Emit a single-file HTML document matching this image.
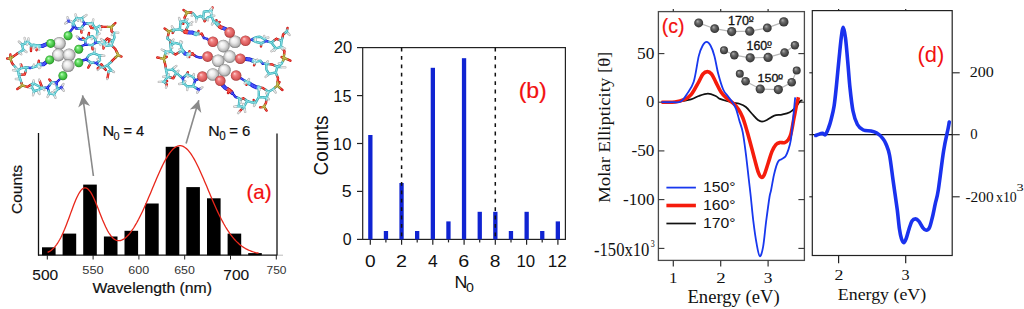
<!DOCTYPE html>
<html><head><meta charset="utf-8"><style>
html,body{margin:0;padding:0;background:#fff;}
body{width:1024px;height:309px;overflow:hidden;}
svg{display:block;}
</style></head><body>
<svg width="1024" height="309" viewBox="0 0 1024 309">
<defs>
<radialGradient id="gsph" cx="0.5" cy="0.5" r="0.5" fx="0.35" fy="0.3"><stop offset="0" stop-color="#b0b0b0"/><stop offset="0.4" stop-color="#6a6a6a"/><stop offset="1" stop-color="#303030"/></radialGradient>
<radialGradient id="gsil" cx="0.5" cy="0.5" r="0.5" fx="0.35" fy="0.3"><stop offset="0" stop-color="#ffffff"/><stop offset="0.45" stop-color="#ebebeb"/><stop offset="0.8" stop-color="#bdbdbd"/><stop offset="1" stop-color="#7a7a7a"/></radialGradient>
<radialGradient id="ggrn" cx="0.5" cy="0.5" r="0.5" fx="0.35" fy="0.3"><stop offset="0" stop-color="#c8ffc8"/><stop offset="0.35" stop-color="#6ee46e"/><stop offset="0.8" stop-color="#3cb83c"/><stop offset="1" stop-color="#248a24"/></radialGradient>
<radialGradient id="gred" cx="0.5" cy="0.5" r="0.5" fx="0.35" fy="0.3"><stop offset="0" stop-color="#ffd0d0"/><stop offset="0.35" stop-color="#f08080"/><stop offset="0.8" stop-color="#d85858"/><stop offset="1" stop-color="#a03838"/></radialGradient>
</defs>
<path d="M69.0 33.0L71.0 30.6M71.0 30.6L72.9 28.3M72.9 28.3L72.9 25.4M83.0 21.1L84.6 23.9M84.6 23.9L82.8 26.1M78.5 28.5L76.0 28.6M76.0 28.6L74.5 25.6M70.8 21.8L68.6 21.0M68.6 21.0L66.9 22.2M68.6 21.0L68.0 19.1M84.6 23.9L86.8 23.5M80.8 46.4L83.0 45.5M83.0 45.5L85.3 44.6M85.3 44.6L85.3 42.3M95.5 41.0L95.5 42.9M95.5 42.9L93.7 44.0M88.6 44.9L85.3 44.6M82.4 39.5L79.5 39.0M79.5 39.0L78.2 37.6M95.5 42.9L97.5 42.6M82.5 60.5L84.2 60.0M84.2 60.0L86.0 59.5M86.0 59.5L87.5 57.4M98.1 61.7L96.2 63.1M96.2 63.1L93.7 62.8M88.5 61.0L86.0 59.5M96.2 63.1L98.4 65.0M46.5 43.2L44.5 44.2M44.5 44.2L42.4 45.1M42.4 45.1L40.1 45.3M47.1 44.8L45.0 45.7M45.0 45.7L43.0 46.7M43.0 46.7L40.6 46.9M46.8 44.0L44.8 45.0M44.8 45.0L42.7 45.9M42.7 45.9L40.4 46.1M45.7 61.6L44.5 62.6M44.5 62.6L43.2 63.7M43.2 63.7L40.7 63.7M46.3 63.0L45.0 64.1M45.0 64.1L43.8 65.1M43.8 65.1L41.2 65.1M46.0 62.3L44.8 63.4M44.8 63.4L43.5 64.4M43.5 64.4L41.0 64.4M31.8 67.7L30.4 68.0M30.4 68.0L28.2 67.7M59.5 79.5L58.0 81.0M58.0 81.0L56.6 82.5M56.6 82.5L54.2 82.4M49.7 84.9L47.6 87.5M47.6 87.5L48.5 90.4M56.9 86.0L56.6 82.5M59.2 88.4L61.2 87.2M61.2 87.2L62.5 89.0M61.2 87.2L62.4 85.6M47.6 87.5L45.0 87.8" stroke="#1212c8" stroke-width="2.40" stroke-linecap="round" fill="none"/>
<path d="M72.9 25.4L72.9 22.5M72.9 22.5L74.8 20.4M74.8 20.4L76.6 18.4M76.6 18.4L79.0 18.4M79.0 18.4L81.5 18.4M81.5 18.4L83.0 21.1M82.8 26.1L81.0 28.3M81.0 28.3L78.5 28.5M74.5 25.6L72.9 22.5M72.9 22.5L70.8 21.8M76.6 18.4L76.0 16.4M81.5 18.4L84.0 16.7M81.0 28.3L81.2 30.5M86.8 23.5L89.0 23.2M89.0 23.2L90.8 23.5M90.8 23.5L92.6 23.9M92.6 23.9L94.0 26.1M94.0 26.1L95.5 28.3M95.5 28.3L97.3 27.2M97.3 27.2L99.2 26.1M99.2 26.1L101.3 26.5M92.6 23.9L92.9 21.6M89.0 23.2L90.0 25.5M93.3 28.1L95.5 28.3M95.5 28.3L96.6 29.9M96.6 29.9L97.7 31.4M97.7 31.4L97.3 33.0M97.3 33.0L97.0 34.5M97.0 34.5L97.0 36.0M99.2 26.1L100.1 28.0M112.6 32.1L113.7 33.0M113.7 33.0L114.1 35.2M114.1 35.2L114.5 37.5M114.5 37.5L113.8 39.2M113.8 39.2L113.0 41.0M113.0 41.0L110.2 39.8M105.9 40.0L104.3 41.6M104.3 41.6L105.0 43.7M105.0 43.7L105.7 45.8M105.7 45.8L108.6 45.5M108.6 45.5L111.5 45.1M111.5 45.1L112.2 43.0M112.2 43.0L113.0 41.0M113.7 33.0L116.0 32.9M104.3 41.6L102.7 40.3M111.5 45.1L113.3 47.0M85.3 42.3L85.3 40.0M85.3 40.0L86.8 38.5M86.8 38.5L88.2 37.1M88.2 37.1L90.4 36.7M90.4 36.7L92.6 36.3M92.6 36.3L94.0 37.8M94.0 37.8L95.5 39.2M95.5 39.2L95.5 41.0M93.7 44.0L91.9 45.1M91.9 45.1L88.6 44.9M85.3 40.0L82.4 39.5M88.2 37.1L88.6 35.0M91.9 45.1L92.2 47.2M97.5 42.6L99.4 42.3M99.4 42.3L101.6 43.0M101.6 43.0L103.7 43.8M103.7 43.8L106.7 43.8M106.7 43.8L109.6 43.8M109.6 43.8L110.3 42.3M110.3 42.3L111.0 40.8M103.7 43.8L103.6 46.1M87.5 57.4L89.0 55.2M89.0 55.2L91.5 54.2M91.5 54.2L94.0 53.3M94.0 53.3L96.5 54.3M96.5 54.3L99.0 55.3M99.0 55.3L99.5 57.8M99.5 57.8L100.0 60.2M100.0 60.2L98.1 61.7M93.7 62.8L91.1 62.5M91.1 62.5L88.5 61.0M91.1 62.5L89.7 65.0M99.0 55.3L101.7 55.5M94.0 53.3L94.5 51.0M98.4 65.0L100.6 66.8M100.6 66.8L102.0 67.2M102.0 67.2L103.5 67.5M103.5 67.5L105.3 66.4M105.3 66.4L107.2 65.3M107.2 65.3L109.0 63.8M109.0 63.8L110.8 62.4M110.8 62.4L111.9 61.1M100.6 66.8L99.2 68.3M107.2 65.3L109.3 67.8M109.3 67.8L111.5 70.4M111.5 70.4L110.0 70.8M110.0 70.8L108.6 71.1M108.6 71.1L108.2 73.7M111.5 70.4L112.8 71.2M103.5 67.5L102.4 65.8M40.1 45.3L37.7 45.5M37.7 45.5L35.7 45.1M35.7 45.1L33.7 44.7M40.6 46.9L38.3 47.1M38.3 47.1L36.3 46.7M36.3 46.7L34.3 46.3M40.4 46.1L38.0 46.3M38.0 46.3L36.0 45.9M36.0 45.9L34.0 45.5M34.0 45.5L32.5 45.0M32.5 45.0L31.0 44.6M31.0 44.6L29.5 43.3M29.5 43.3L28.0 42.0M28.0 42.0L26.9 42.6M26.9 42.6L25.9 43.3M25.9 43.3L23.9 44.0M23.9 44.0L22.0 44.6M22.0 44.6L22.6 47.2M22.6 47.2L23.3 49.7M23.3 49.7L21.4 51.0M21.4 51.0L19.4 52.3M19.4 52.3L17.4 53.6M38.0 46.3L37.2 48.2M31.0 44.6L31.0 47.8M25.9 43.3L25.2 40.6M28.0 42.0L28.2 40.2M22.0 44.6L20.4 43.0M23.3 49.7L24.9 50.9M13.3 64.7L14.4 66.0M14.4 66.0L16.2 68.1M16.2 68.1L18.0 70.2M40.7 63.7L38.1 63.7M38.1 63.7L37.8 64.4M37.8 64.4L37.4 65.1M41.2 65.1L38.7 65.1M38.7 65.1L38.3 65.8M38.3 65.8L38.0 66.5M41.0 64.4L38.4 64.4M38.4 64.4L38.0 65.1M38.0 65.1L37.7 65.8M37.7 65.8L35.5 66.5M35.5 66.5L33.3 67.3M33.3 67.3L31.8 67.7M28.2 67.7L26.0 67.3M26.0 67.3L23.8 67.7M23.8 67.7L21.6 68.0M21.6 68.0L19.8 69.1M19.8 69.1L18.0 70.2M18.0 70.2L18.4 72.4M18.4 72.4L18.7 74.6M18.7 74.6L21.6 74.6M25.3 72.4L26.0 70.2M38.4 64.4L38.6 62.6M21.6 68.0L21.1 66.1M18.0 70.2L15.5 70.2M18.7 74.6L19.4 76.8M19.4 76.8L20.2 78.9M20.2 78.9L20.9 81.0M20.9 81.0L21.5 83.0M20.2 78.9L18.0 79.0M54.2 82.4L51.8 82.3M51.8 82.3L49.7 84.9M48.5 90.4L49.3 93.3M49.3 93.3L51.6 93.8M51.6 93.8L54.0 94.2M54.0 94.2L55.6 91.9M55.6 91.9L57.2 89.6M57.2 89.6L56.9 86.0M51.8 82.3L50.5 80.9M57.2 89.6L59.2 88.4M49.3 93.3L48.4 95.2M54.0 94.2L54.8 96.0M45.0 87.8L42.5 88.0M42.5 88.0L40.5 88.9M40.5 88.9L38.6 89.8M38.6 89.8L36.3 90.5M36.3 90.5L34.0 91.3M34.0 91.3L32.9 89.1M32.9 89.1L31.8 86.9M31.8 86.9L32.5 85.1M32.5 85.1L33.3 83.3M33.3 83.3L35.1 84.3M35.1 84.3L37.0 85.3M37.0 85.3L39.8 86.7M39.8 86.7L42.5 88.0M42.5 88.0L41.5 85.8M34.0 91.3L33.5 93.3M38.6 89.8L39.0 91.9M33.3 83.3L30.4 85.1M72.9 22.5L71.7 21.8M76.6 18.4L77.4 19.6M81.5 18.4L81.4 19.8M81.0 28.3L82.2 29.1M89.0 23.2L89.6 24.5M92.6 23.9L91.3 24.4M99.2 26.1L100.1 27.2M97.0 34.5L98.3 34.0M113.7 33.0L112.8 34.0M104.3 41.6L103.0 42.0M105.7 45.8L106.6 44.7M111.5 45.1L110.9 43.9M85.3 40.0L84.1 38.9M92.6 36.3L92.2 37.6M99.4 42.3L99.9 43.6M103.7 43.8L104.1 45.1M109.6 43.8L109.3 42.2M100.0 60.2L98.7 59.6M100.6 66.8L99.1 67.6M103.5 67.5L104.6 68.7M37.7 45.5L37.4 46.9M38.3 47.1L38.8 48.4M38.0 46.3L37.5 47.6M34.0 45.5L33.8 46.9M28.0 42.0L27.6 43.3M19.4 52.3L20.4 53.3M38.7 65.1L39.4 66.3M38.4 64.4L38.6 65.8M37.7 65.8L38.5 66.9M33.3 67.3L33.6 65.9M21.6 68.0L21.4 66.4M18.0 70.2L17.0 69.2M51.8 82.3L53.0 83.1M54.0 94.2L53.0 93.2M57.2 89.6L55.9 90.0M42.5 88.0L43.4 89.0M38.6 89.8L38.5 91.2M31.8 86.9L30.5 87.3M33.3 83.3L33.5 81.9" stroke="#38aab2" stroke-width="2.40" stroke-linecap="round" fill="none"/>
<path d="M66.9 22.2L65.2 23.5M68.0 19.1L67.5 17.2M76.0 16.4L75.5 14.4M84.0 16.7L86.5 15.0M92.9 21.6L93.3 19.4M97.0 36.0L97.0 37.5M100.1 28.0L101.0 29.8M116.0 32.9L118.3 32.7M102.7 40.3L101.0 39.0M78.2 37.6L76.8 36.3M101.7 55.5L104.3 55.8M94.5 51.0L95.0 48.8M99.2 68.3L97.7 69.9M107.6 77.6L107.2 79.0M112.8 71.2L114.0 72.0M25.2 40.6L24.6 38.0M28.2 40.2L28.5 38.5M20.4 43.0L18.8 41.5M24.9 50.9L26.5 52.0M21.1 66.1L20.5 64.2M15.5 70.2L13.0 70.3M18.0 79.0L15.8 79.0M62.5 89.0L63.8 90.8M62.4 85.6L63.5 84.0M48.4 95.2L47.5 97.0M54.8 96.0L55.5 97.8M39.9 81.5L39.1 79.6M33.5 93.3L33.0 95.3M39.0 91.9L39.5 94.0M71.7 21.8L70.5 21.1M77.4 19.6L78.2 20.7M81.4 19.8L81.4 21.2M82.2 29.1L83.3 29.8M89.6 24.5L90.2 25.7M91.3 24.4L90.0 24.9M100.1 27.2L101.0 28.2M98.3 34.0L99.6 33.6M112.8 34.0L111.8 35.1M103.0 42.0L101.6 42.4M106.6 44.7L107.4 43.6M110.9 43.9L110.2 42.6M92.2 37.6L91.7 39.0M99.9 43.6L100.4 44.9M104.1 45.1L104.5 46.5M98.7 59.6L97.5 59.0M37.4 46.9L37.0 48.3M38.8 48.4L39.2 49.7M37.5 47.6L37.0 48.9M33.8 46.9L33.7 48.3M27.6 43.3L27.1 44.7M20.4 53.3L21.3 54.3M39.4 66.3L40.2 67.5M38.6 65.8L38.8 67.2M38.5 66.9L39.3 68.1M33.6 65.9L34.0 64.6M17.0 69.2L16.0 68.3M53.0 83.1L54.1 83.9M53.0 93.2L52.0 92.2M55.9 90.0L54.5 90.5M43.4 89.0L44.4 90.1M38.5 91.2L38.4 92.6M30.5 87.3L29.1 87.6M33.5 81.9L33.6 80.5" stroke="#b8b8b8" stroke-width="2.40" stroke-linecap="round" fill="none"/>
<path d="M81.2 30.5L81.5 32.6M101.3 26.5L103.5 26.9M103.5 26.9L107.5 26.9M113.5 24.9L115.4 23.0M90.0 25.5L91.1 27.8M91.1 27.8L93.3 28.1M111.5 29.0L111.5 31.2M111.5 31.2L112.6 32.1M110.2 39.8L107.5 38.5M107.5 38.5L105.9 40.0M113.3 47.0L115.2 48.8M115.2 48.8L116.7 52.0M119.8 55.9L121.5 56.6M117.3 53.0L116.5 51.0M88.6 35.0L89.0 33.0M92.2 47.2L92.6 49.3M103.6 46.1L103.5 48.5M89.7 65.0L88.2 67.6M111.9 61.1L113.0 59.8M113.0 59.8L115.5 57.5M108.2 73.7L107.9 76.2M107.9 76.2L107.6 77.6M102.4 65.8L101.3 64.2M17.4 53.6L15.5 54.9M15.5 54.9L12.9 56.8M8.8 58.6L7.2 58.5M37.2 48.2L36.5 50.2M31.0 47.8L31.0 51.0M10.4 56.6L10.4 54.5M11.2 61.1L12.2 63.4M12.2 63.4L13.3 64.7M21.6 74.6L24.6 74.6M24.6 74.6L25.3 72.4M38.6 62.6L38.8 60.8M50.5 80.9L49.3 79.5M41.5 85.8L40.6 83.5M40.6 83.5L39.9 81.5M30.4 85.1L27.5 86.9M27.5 86.9L24.9 86.2M19.9 87.3L17.3 89.1M21.9 84.2L21.5 83.0M84.1 38.9L82.8 37.8M109.3 42.2L109.0 40.6M99.1 67.6L97.7 68.4M104.6 68.7L105.8 69.9M21.4 66.4L21.2 64.7" stroke="#c80e0e" stroke-width="2.40" stroke-linecap="round" fill="none"/>
<path d="M107.5 26.9L111.5 26.9M111.5 26.9L113.5 24.9M111.5 26.9L111.5 29.0M116.7 52.0L118.1 55.1M118.1 55.1L119.8 55.9M118.1 55.1L117.3 53.0M115.5 57.5L118.1 55.1M12.9 56.8L10.3 58.8M10.3 58.8L8.8 58.6M10.3 58.8L10.4 56.6M10.3 58.8L11.2 61.1M24.9 86.2L22.4 85.5M22.4 85.5L19.9 87.3M22.4 85.5L21.9 84.2" stroke="#8a8420" stroke-width="2.40" stroke-linecap="round" fill="none"/>
<path d="M69.0 33.0L71.0 30.6M71.0 30.6L72.9 28.3M72.9 28.3L72.9 25.4M83.0 21.1L84.6 23.9M84.6 23.9L82.8 26.1M78.5 28.5L76.0 28.6M76.0 28.6L74.5 25.6M70.8 21.8L68.6 21.0M68.6 21.0L66.9 22.2M68.6 21.0L68.0 19.1M84.6 23.9L86.8 23.5M80.8 46.4L83.0 45.5M83.0 45.5L85.3 44.6M85.3 44.6L85.3 42.3M95.5 41.0L95.5 42.9M95.5 42.9L93.7 44.0M88.6 44.9L85.3 44.6M82.4 39.5L79.5 39.0M79.5 39.0L78.2 37.6M95.5 42.9L97.5 42.6M82.5 60.5L84.2 60.0M84.2 60.0L86.0 59.5M86.0 59.5L87.5 57.4M98.1 61.7L96.2 63.1M96.2 63.1L93.7 62.8M88.5 61.0L86.0 59.5M96.2 63.1L98.4 65.0M46.5 43.2L44.5 44.2M44.5 44.2L42.4 45.1M42.4 45.1L40.1 45.3M47.1 44.8L45.0 45.7M45.0 45.7L43.0 46.7M43.0 46.7L40.6 46.9M46.8 44.0L44.8 45.0M44.8 45.0L42.7 45.9M42.7 45.9L40.4 46.1M45.7 61.6L44.5 62.6M44.5 62.6L43.2 63.7M43.2 63.7L40.7 63.7M46.3 63.0L45.0 64.1M45.0 64.1L43.8 65.1M43.8 65.1L41.2 65.1M46.0 62.3L44.8 63.4M44.8 63.4L43.5 64.4M43.5 64.4L41.0 64.4M31.8 67.7L30.4 68.0M30.4 68.0L28.2 67.7M59.5 79.5L58.0 81.0M58.0 81.0L56.6 82.5M56.6 82.5L54.2 82.4M49.7 84.9L47.6 87.5M47.6 87.5L48.5 90.4M56.9 86.0L56.6 82.5M59.2 88.4L61.2 87.2M61.2 87.2L62.5 89.0M61.2 87.2L62.4 85.6M47.6 87.5L45.0 87.8" stroke="#4a5aff" stroke-width="0.96" stroke-linecap="round" fill="none"/>
<path d="M72.9 25.4L72.9 22.5M72.9 22.5L74.8 20.4M74.8 20.4L76.6 18.4M76.6 18.4L79.0 18.4M79.0 18.4L81.5 18.4M81.5 18.4L83.0 21.1M82.8 26.1L81.0 28.3M81.0 28.3L78.5 28.5M74.5 25.6L72.9 22.5M72.9 22.5L70.8 21.8M76.6 18.4L76.0 16.4M81.5 18.4L84.0 16.7M81.0 28.3L81.2 30.5M86.8 23.5L89.0 23.2M89.0 23.2L90.8 23.5M90.8 23.5L92.6 23.9M92.6 23.9L94.0 26.1M94.0 26.1L95.5 28.3M95.5 28.3L97.3 27.2M97.3 27.2L99.2 26.1M99.2 26.1L101.3 26.5M92.6 23.9L92.9 21.6M89.0 23.2L90.0 25.5M93.3 28.1L95.5 28.3M95.5 28.3L96.6 29.9M96.6 29.9L97.7 31.4M97.7 31.4L97.3 33.0M97.3 33.0L97.0 34.5M97.0 34.5L97.0 36.0M99.2 26.1L100.1 28.0M112.6 32.1L113.7 33.0M113.7 33.0L114.1 35.2M114.1 35.2L114.5 37.5M114.5 37.5L113.8 39.2M113.8 39.2L113.0 41.0M113.0 41.0L110.2 39.8M105.9 40.0L104.3 41.6M104.3 41.6L105.0 43.7M105.0 43.7L105.7 45.8M105.7 45.8L108.6 45.5M108.6 45.5L111.5 45.1M111.5 45.1L112.2 43.0M112.2 43.0L113.0 41.0M113.7 33.0L116.0 32.9M104.3 41.6L102.7 40.3M111.5 45.1L113.3 47.0M85.3 42.3L85.3 40.0M85.3 40.0L86.8 38.5M86.8 38.5L88.2 37.1M88.2 37.1L90.4 36.7M90.4 36.7L92.6 36.3M92.6 36.3L94.0 37.8M94.0 37.8L95.5 39.2M95.5 39.2L95.5 41.0M93.7 44.0L91.9 45.1M91.9 45.1L88.6 44.9M85.3 40.0L82.4 39.5M88.2 37.1L88.6 35.0M91.9 45.1L92.2 47.2M97.5 42.6L99.4 42.3M99.4 42.3L101.6 43.0M101.6 43.0L103.7 43.8M103.7 43.8L106.7 43.8M106.7 43.8L109.6 43.8M109.6 43.8L110.3 42.3M110.3 42.3L111.0 40.8M103.7 43.8L103.6 46.1M87.5 57.4L89.0 55.2M89.0 55.2L91.5 54.2M91.5 54.2L94.0 53.3M94.0 53.3L96.5 54.3M96.5 54.3L99.0 55.3M99.0 55.3L99.5 57.8M99.5 57.8L100.0 60.2M100.0 60.2L98.1 61.7M93.7 62.8L91.1 62.5M91.1 62.5L88.5 61.0M91.1 62.5L89.7 65.0M99.0 55.3L101.7 55.5M94.0 53.3L94.5 51.0M98.4 65.0L100.6 66.8M100.6 66.8L102.0 67.2M102.0 67.2L103.5 67.5M103.5 67.5L105.3 66.4M105.3 66.4L107.2 65.3M107.2 65.3L109.0 63.8M109.0 63.8L110.8 62.4M110.8 62.4L111.9 61.1M100.6 66.8L99.2 68.3M107.2 65.3L109.3 67.8M109.3 67.8L111.5 70.4M111.5 70.4L110.0 70.8M110.0 70.8L108.6 71.1M108.6 71.1L108.2 73.7M111.5 70.4L112.8 71.2M103.5 67.5L102.4 65.8M40.1 45.3L37.7 45.5M37.7 45.5L35.7 45.1M35.7 45.1L33.7 44.7M40.6 46.9L38.3 47.1M38.3 47.1L36.3 46.7M36.3 46.7L34.3 46.3M40.4 46.1L38.0 46.3M38.0 46.3L36.0 45.9M36.0 45.9L34.0 45.5M34.0 45.5L32.5 45.0M32.5 45.0L31.0 44.6M31.0 44.6L29.5 43.3M29.5 43.3L28.0 42.0M28.0 42.0L26.9 42.6M26.9 42.6L25.9 43.3M25.9 43.3L23.9 44.0M23.9 44.0L22.0 44.6M22.0 44.6L22.6 47.2M22.6 47.2L23.3 49.7M23.3 49.7L21.4 51.0M21.4 51.0L19.4 52.3M19.4 52.3L17.4 53.6M38.0 46.3L37.2 48.2M31.0 44.6L31.0 47.8M25.9 43.3L25.2 40.6M28.0 42.0L28.2 40.2M22.0 44.6L20.4 43.0M23.3 49.7L24.9 50.9M13.3 64.7L14.4 66.0M14.4 66.0L16.2 68.1M16.2 68.1L18.0 70.2M40.7 63.7L38.1 63.7M38.1 63.7L37.8 64.4M37.8 64.4L37.4 65.1M41.2 65.1L38.7 65.1M38.7 65.1L38.3 65.8M38.3 65.8L38.0 66.5M41.0 64.4L38.4 64.4M38.4 64.4L38.0 65.1M38.0 65.1L37.7 65.8M37.7 65.8L35.5 66.5M35.5 66.5L33.3 67.3M33.3 67.3L31.8 67.7M28.2 67.7L26.0 67.3M26.0 67.3L23.8 67.7M23.8 67.7L21.6 68.0M21.6 68.0L19.8 69.1M19.8 69.1L18.0 70.2M18.0 70.2L18.4 72.4M18.4 72.4L18.7 74.6M18.7 74.6L21.6 74.6M25.3 72.4L26.0 70.2M38.4 64.4L38.6 62.6M21.6 68.0L21.1 66.1M18.0 70.2L15.5 70.2M18.7 74.6L19.4 76.8M19.4 76.8L20.2 78.9M20.2 78.9L20.9 81.0M20.9 81.0L21.5 83.0M20.2 78.9L18.0 79.0M54.2 82.4L51.8 82.3M51.8 82.3L49.7 84.9M48.5 90.4L49.3 93.3M49.3 93.3L51.6 93.8M51.6 93.8L54.0 94.2M54.0 94.2L55.6 91.9M55.6 91.9L57.2 89.6M57.2 89.6L56.9 86.0M51.8 82.3L50.5 80.9M57.2 89.6L59.2 88.4M49.3 93.3L48.4 95.2M54.0 94.2L54.8 96.0M45.0 87.8L42.5 88.0M42.5 88.0L40.5 88.9M40.5 88.9L38.6 89.8M38.6 89.8L36.3 90.5M36.3 90.5L34.0 91.3M34.0 91.3L32.9 89.1M32.9 89.1L31.8 86.9M31.8 86.9L32.5 85.1M32.5 85.1L33.3 83.3M33.3 83.3L35.1 84.3M35.1 84.3L37.0 85.3M37.0 85.3L39.8 86.7M39.8 86.7L42.5 88.0M42.5 88.0L41.5 85.8M34.0 91.3L33.5 93.3M38.6 89.8L39.0 91.9M33.3 83.3L30.4 85.1M72.9 22.5L71.7 21.8M76.6 18.4L77.4 19.6M81.5 18.4L81.4 19.8M81.0 28.3L82.2 29.1M89.0 23.2L89.6 24.5M92.6 23.9L91.3 24.4M99.2 26.1L100.1 27.2M97.0 34.5L98.3 34.0M113.7 33.0L112.8 34.0M104.3 41.6L103.0 42.0M105.7 45.8L106.6 44.7M111.5 45.1L110.9 43.9M85.3 40.0L84.1 38.9M92.6 36.3L92.2 37.6M99.4 42.3L99.9 43.6M103.7 43.8L104.1 45.1M109.6 43.8L109.3 42.2M100.0 60.2L98.7 59.6M100.6 66.8L99.1 67.6M103.5 67.5L104.6 68.7M37.7 45.5L37.4 46.9M38.3 47.1L38.8 48.4M38.0 46.3L37.5 47.6M34.0 45.5L33.8 46.9M28.0 42.0L27.6 43.3M19.4 52.3L20.4 53.3M38.7 65.1L39.4 66.3M38.4 64.4L38.6 65.8M37.7 65.8L38.5 66.9M33.3 67.3L33.6 65.9M21.6 68.0L21.4 66.4M18.0 70.2L17.0 69.2M51.8 82.3L53.0 83.1M54.0 94.2L53.0 93.2M57.2 89.6L55.9 90.0M42.5 88.0L43.4 89.0M38.6 89.8L38.5 91.2M31.8 86.9L30.5 87.3M33.3 83.3L33.5 81.9" stroke="#86e2e8" stroke-width="0.96" stroke-linecap="round" fill="none"/>
<path d="M66.9 22.2L65.2 23.5M68.0 19.1L67.5 17.2M76.0 16.4L75.5 14.4M84.0 16.7L86.5 15.0M92.9 21.6L93.3 19.4M97.0 36.0L97.0 37.5M100.1 28.0L101.0 29.8M116.0 32.9L118.3 32.7M102.7 40.3L101.0 39.0M78.2 37.6L76.8 36.3M101.7 55.5L104.3 55.8M94.5 51.0L95.0 48.8M99.2 68.3L97.7 69.9M107.6 77.6L107.2 79.0M112.8 71.2L114.0 72.0M25.2 40.6L24.6 38.0M28.2 40.2L28.5 38.5M20.4 43.0L18.8 41.5M24.9 50.9L26.5 52.0M21.1 66.1L20.5 64.2M15.5 70.2L13.0 70.3M18.0 79.0L15.8 79.0M62.5 89.0L63.8 90.8M62.4 85.6L63.5 84.0M48.4 95.2L47.5 97.0M54.8 96.0L55.5 97.8M39.9 81.5L39.1 79.6M33.5 93.3L33.0 95.3M39.0 91.9L39.5 94.0M71.7 21.8L70.5 21.1M77.4 19.6L78.2 20.7M81.4 19.8L81.4 21.2M82.2 29.1L83.3 29.8M89.6 24.5L90.2 25.7M91.3 24.4L90.0 24.9M100.1 27.2L101.0 28.2M98.3 34.0L99.6 33.6M112.8 34.0L111.8 35.1M103.0 42.0L101.6 42.4M106.6 44.7L107.4 43.6M110.9 43.9L110.2 42.6M92.2 37.6L91.7 39.0M99.9 43.6L100.4 44.9M104.1 45.1L104.5 46.5M98.7 59.6L97.5 59.0M37.4 46.9L37.0 48.3M38.8 48.4L39.2 49.7M37.5 47.6L37.0 48.9M33.8 46.9L33.7 48.3M27.6 43.3L27.1 44.7M20.4 53.3L21.3 54.3M39.4 66.3L40.2 67.5M38.6 65.8L38.8 67.2M38.5 66.9L39.3 68.1M33.6 65.9L34.0 64.6M17.0 69.2L16.0 68.3M53.0 83.1L54.1 83.9M53.0 93.2L52.0 92.2M55.9 90.0L54.5 90.5M43.4 89.0L44.4 90.1M38.5 91.2L38.4 92.6M30.5 87.3L29.1 87.6M33.5 81.9L33.6 80.5" stroke="#f2f2f2" stroke-width="0.96" stroke-linecap="round" fill="none"/>
<path d="M81.2 30.5L81.5 32.6M101.3 26.5L103.5 26.9M103.5 26.9L107.5 26.9M113.5 24.9L115.4 23.0M90.0 25.5L91.1 27.8M91.1 27.8L93.3 28.1M111.5 29.0L111.5 31.2M111.5 31.2L112.6 32.1M110.2 39.8L107.5 38.5M107.5 38.5L105.9 40.0M113.3 47.0L115.2 48.8M115.2 48.8L116.7 52.0M119.8 55.9L121.5 56.6M117.3 53.0L116.5 51.0M88.6 35.0L89.0 33.0M92.2 47.2L92.6 49.3M103.6 46.1L103.5 48.5M89.7 65.0L88.2 67.6M111.9 61.1L113.0 59.8M113.0 59.8L115.5 57.5M108.2 73.7L107.9 76.2M107.9 76.2L107.6 77.6M102.4 65.8L101.3 64.2M17.4 53.6L15.5 54.9M15.5 54.9L12.9 56.8M8.8 58.6L7.2 58.5M37.2 48.2L36.5 50.2M31.0 47.8L31.0 51.0M10.4 56.6L10.4 54.5M11.2 61.1L12.2 63.4M12.2 63.4L13.3 64.7M21.6 74.6L24.6 74.6M24.6 74.6L25.3 72.4M38.6 62.6L38.8 60.8M50.5 80.9L49.3 79.5M41.5 85.8L40.6 83.5M40.6 83.5L39.9 81.5M30.4 85.1L27.5 86.9M27.5 86.9L24.9 86.2M19.9 87.3L17.3 89.1M21.9 84.2L21.5 83.0M84.1 38.9L82.8 37.8M109.3 42.2L109.0 40.6M99.1 67.6L97.7 68.4M104.6 68.7L105.8 69.9M21.4 66.4L21.2 64.7" stroke="#ff5a4a" stroke-width="0.96" stroke-linecap="round" fill="none"/>
<path d="M107.5 26.9L111.5 26.9M111.5 26.9L113.5 24.9M111.5 26.9L111.5 29.0M116.7 52.0L118.1 55.1M118.1 55.1L119.8 55.9M118.1 55.1L117.3 53.0M115.5 57.5L118.1 55.1M12.9 56.8L10.3 58.8M10.3 58.8L8.8 58.6M10.3 58.8L10.4 56.6M10.3 58.8L11.2 61.1M24.9 86.2L22.4 85.5M22.4 85.5L19.9 87.3M22.4 85.5L21.9 84.2" stroke="#c8c050" stroke-width="0.96" stroke-linecap="round" fill="none"/>
<circle cx="59.4" cy="43.4" r="6.4" fill="url(#gsil)"/>
<circle cx="58.4" cy="55.0" r="6.4" fill="url(#gsil)"/>
<circle cx="69.1" cy="55.0" r="6.4" fill="url(#gsil)"/>
<circle cx="68.1" cy="65.7" r="6.4" fill="url(#gsil)"/>
<circle cx="68.1" cy="35.7" r="4.5" fill="url(#ggrn)"/>
<circle cx="50.7" cy="43.4" r="4.5" fill="url(#ggrn)"/>
<circle cx="78.8" cy="49.2" r="4.5" fill="url(#ggrn)"/>
<circle cx="49.7" cy="59.9" r="4.5" fill="url(#ggrn)"/>
<circle cx="78.8" cy="62.8" r="4.5" fill="url(#ggrn)"/>
<circle cx="62.9" cy="75.8" r="4.5" fill="url(#ggrn)"/>
<path d="M226.0 28.4L225.2 28.1M225.2 28.1L224.3 27.8M224.3 27.8L222.5 27.1M225.0 29.6L224.1 29.3M224.1 29.3L223.3 29.0M223.3 29.0L221.5 28.3M225.5 29.0L224.7 28.7M224.7 28.7L223.8 28.4M223.8 28.4L222.0 27.7M187.2 33.1L189.7 33.3M189.7 33.3L190.9 33.3M190.9 33.3L192.0 33.4M192.0 33.4L194.2 34.2M187.8 31.5L190.3 31.7M190.3 31.7L191.4 31.8M191.4 31.8L192.6 31.8M192.6 31.8L194.7 32.7M187.5 32.3L190.0 32.5M190.0 32.5L191.2 32.5M191.2 32.5L192.3 32.6M192.3 32.6L194.4 33.5M202.8 35.8L203.9 38.0M203.9 38.0L205.4 38.4M205.4 38.4L206.8 38.7M206.8 38.7L207.7 39.4M207.7 39.4L208.5 40.0M183.3 52.6L184.7 54.3M184.7 54.3L186.5 54.8M183.8 51.2L185.3 52.9M185.3 52.9L187.1 53.4M183.6 51.9L185.0 53.6M185.0 53.6L186.8 54.1M194.4 55.3L196.6 56.8M196.6 56.8L198.1 57.1M198.1 57.1L199.5 57.5M199.5 57.5L200.5 57.5M200.5 57.5L201.5 57.5M181.0 76.8L182.8 78.3M182.8 78.3L184.7 76.4M194.1 78.7L195.2 80.5M195.2 80.5L194.1 83.4M183.2 80.8L182.8 78.3M195.9 87.9L198.8 89.6M198.8 89.6L200.6 88.4M198.8 89.6L198.0 91.2M195.2 80.5L196.5 79.9M196.5 79.9L197.8 79.3M240.5 78.0L241.2 78.5M241.2 78.5L242.0 78.9M242.0 78.9L244.6 80.5M249.5 84.5L252.1 86.1M252.1 86.1L254.0 87.1M254.0 87.1L255.9 88.0M255.9 88.0L257.2 88.0M250.1 83.0L252.7 84.7M252.7 84.7L254.6 85.6M254.6 85.6L256.5 86.6M256.5 86.6L257.8 86.6M249.8 83.8L252.4 85.4M252.4 85.4L254.3 86.3M254.3 86.3L256.2 87.3M256.2 87.3L257.5 87.3M222.0 85.6L223.3 87.0M223.3 87.0L224.7 88.5M224.7 88.5L226.9 89.8M230.5 92.4L231.8 93.7M223.0 84.4L224.4 85.9M224.4 85.9L225.7 87.3M225.7 87.3L228.0 88.6M231.5 91.2L232.8 92.5M222.5 85.0L223.8 86.5M223.8 86.5L225.2 87.9M225.2 87.9L227.4 89.2M231.0 91.8L232.3 93.1M232.3 93.1L233.9 95.0M233.9 95.0L235.5 97.0M235.5 97.0L237.4 97.7M250.5 40.0L251.2 39.8M251.2 39.8L251.8 39.6M251.8 39.6L253.6 38.5M265.2 39.9L266.3 41.0M266.3 41.0L263.8 42.1M253.6 40.7L251.8 39.6M266.3 41.0L268.9 41.8M245.8 59.8L247.6 60.0M247.6 60.0L249.4 60.2M249.4 60.2L252.3 61.3M246.2 58.2L248.0 58.4M248.0 58.4L249.8 58.6M249.8 58.6L252.7 59.7M246.0 59.0L247.8 59.2M247.8 59.2L249.6 59.4M249.6 59.4L252.5 60.5M261.6 62.2L262.7 63.7M262.7 63.7L264.5 63.7" stroke="#1212c8" stroke-width="2.40" stroke-linecap="round" fill="none"/>
<path d="M222.5 27.1L220.7 26.4M220.7 26.4L218.9 24.6M221.5 28.3L219.7 27.6M219.7 27.6L217.9 25.7M222.0 27.7L220.2 27.0M220.2 27.0L218.4 25.1M203.9 19.4L204.6 21.2M204.6 21.2L206.1 19.4M211.8 9.5L212.5 7.5M192.6 13.2L191.5 12.5M191.5 12.5L189.3 12.5M185.3 11.2L183.5 10.0M185.8 15.1L184.5 17.6M184.5 17.6L185.1 19.4M186.8 28.5L185.0 32.1M185.0 32.1L182.4 30.6M184.7 32.9L187.2 33.1M185.3 31.3L187.8 31.5M185.0 32.1L187.5 32.3M199.1 34.0L201.7 33.6M201.7 33.6L202.8 35.8M197.6 32.6L198.5 31.0M166.8 29.9L164.6 28.5M168.6 33.2L168.2 35.0M168.2 35.0L167.8 36.8M178.8 52.4L175.5 54.6M175.5 54.6L173.3 53.2M170.4 43.2L170.4 40.7M190.2 54.9L192.0 54.5M190.7 53.5L192.6 53.1M190.4 54.2L192.3 53.8M192.3 53.8L194.4 55.3M189.1 53.0L189.5 51.3M160.6 58.2L157.3 57.5M165.3 57.8L166.8 56.8M164.6 62.0L165.4 65.2M165.4 65.2L165.8 67.8M174.9 75.4L173.4 78.3M173.4 78.3L170.5 77.5M165.4 83.2L166.8 84.4M166.8 84.4L166.4 86.0M187.2 73.4L187.9 72.2M246.8 83.4L246.5 84.8M260.8 87.6L262.7 87.9M262.7 87.9L265.6 89.8M266.3 100.2L266.0 102.8M266.0 102.8L265.0 104.8M265.3 108.7L266.6 110.6M262.1 107.1L260.1 107.4M245.2 99.6L243.3 98.3M243.3 98.3L241.4 99.2M242.3 108.5L240.7 110.2M240.7 110.2L239.4 111.7M226.9 89.8L229.2 91.1M229.2 91.1L230.5 92.4M228.0 88.6L230.2 89.9M230.2 89.9L231.5 91.2M227.4 89.2L229.7 90.5M229.7 90.5L231.0 91.8M229.7 90.5L228.8 91.8M228.8 91.8L228.0 93.0M261.1 44.9L261.0 46.5M273.9 40.6L276.5 38.8M276.5 38.8L279.1 39.9M282.4 37.8L283.1 34.5M283.1 34.5L284.9 33.0M287.1 29.8L287.5 28.0M282.7 49.0L284.5 51.2M284.5 51.2L284.1 54.5M287.1 59.2L290.4 60.7M282.7 57.5L281.6 57.1M254.7 63.8L254.1 65.3M255.0 62.3L254.5 63.7M254.9 63.0L254.3 64.5M254.3 64.5L254.9 63.0M269.2 64.1L272.2 64.5M272.2 64.5L274.8 65.6M276.9 75.4L278.0 78.3M278.0 78.3L277.6 81.9M279.9 87.8L282.4 90.0M278.4 83.8L279.5 82.0M218.1 22.7L219.6 22.0M215.0 21.1L216.5 20.3M181.9 22.9L183.3 23.8M173.4 31.5L172.7 33.0M189.0 55.5L189.2 57.1M165.5 81.5L167.1 81.0M254.7 101.5L253.7 100.1" stroke="#c80e0e" stroke-width="2.40" stroke-linecap="round" fill="none"/>
<path d="M218.9 24.6L217.1 22.7M217.9 25.7L216.1 23.9M218.4 25.1L216.6 23.3M216.6 23.3L215.1 22.6M215.1 22.6L213.6 21.9M213.6 21.9L212.6 18.9M212.6 18.9L211.5 16.0M211.5 16.0L211.3 13.8M211.3 13.8L211.2 11.5M211.2 11.5L210.4 11.2M210.4 11.2L209.7 11.0M209.7 11.0L206.8 11.3M206.8 11.3L203.9 11.7M203.9 11.7L203.6 14.7M203.6 14.7L203.2 17.6M203.2 17.6L203.9 19.4M206.1 19.4L207.6 17.6M207.6 17.6L209.4 16.8M209.4 16.8L211.2 16.0M213.6 21.9L212.8 23.2M211.2 11.5L211.8 9.5M209.7 11.0L210.8 9.5M203.2 17.6L201.8 16.9M201.8 16.9L200.3 16.1M200.3 16.1L198.4 16.9M198.4 16.9L196.6 17.6M196.6 17.6L195.1 15.8M195.1 15.8L193.7 13.9M193.7 13.9L192.6 13.2M185.1 19.4L185.7 21.2M185.7 21.2L187.1 23.0M187.1 23.0L188.6 24.9M188.6 24.9L186.8 28.5M182.4 30.6L179.9 29.2M179.9 29.2L180.2 25.5M180.2 25.5L180.6 21.9M180.6 21.9L183.1 21.5M183.1 21.5L185.7 21.2M196.6 17.6L196.3 19.6M180.6 21.9L179.8 19.9M188.6 24.9L190.4 23.4M194.2 34.2L196.3 35.1M194.7 32.7L196.9 33.5M194.4 33.5L196.6 34.3M196.6 34.3L199.1 34.0M196.6 34.3L197.6 32.6M179.9 29.2L176.9 29.6M176.9 29.6L174.0 30.0M174.0 30.0L171.4 30.7M167.8 36.8L167.3 38.5M167.3 38.5L169.6 40.4M169.6 40.4L171.9 42.3M171.9 42.3L173.4 42.6M173.4 42.6L174.8 42.9M174.8 42.9L177.7 43.6M177.7 43.6L180.6 44.4M180.6 44.4L181.3 47.3M181.3 47.3L182.1 50.2M182.1 50.2L178.8 52.4M173.3 53.2L171.1 51.7M171.1 51.7L170.8 48.8M170.8 48.8L170.4 45.8M170.4 45.8L172.6 44.3M172.6 44.3L174.8 42.9M174.0 30.0L172.9 28.1M171.9 42.3L172.7 40.9M170.4 45.8L170.4 43.2M180.6 44.4L180.6 42.8M181.8 50.9L183.3 52.6M186.5 54.8L188.3 55.3M188.3 55.3L190.2 54.9M182.4 49.5L183.8 51.2M187.1 53.4L188.9 53.9M188.9 53.9L190.7 53.5M182.1 50.2L183.6 51.9M186.8 54.1L188.6 54.6M188.6 54.6L190.4 54.2M188.6 54.6L189.1 53.0M171.1 51.7L168.6 51.7M168.6 51.7L166.0 51.7M166.0 51.7L164.9 55.3M166.0 51.7L163.8 50.6M165.8 67.8L166.1 70.3M166.1 70.3L169.0 69.9M169.0 69.9L171.9 69.6M171.9 69.6L174.1 71.0M174.1 71.0L176.3 72.5M176.3 72.5L174.9 75.4M170.5 77.5L167.6 76.8M167.6 76.8L166.8 73.5M166.8 73.5L166.1 70.3M171.9 69.6L174.1 67.8M167.6 76.8L165.4 76.8M167.6 76.8L165.8 79.3M165.8 79.3L163.9 81.9M163.9 81.9L165.4 83.2M163.9 81.9L161.4 81.9M176.3 72.5L177.8 74.0M177.8 74.0L179.2 75.4M179.2 75.4L181.0 76.8M184.7 76.4L186.5 74.6M186.5 74.6L189.8 75.7M189.8 75.7L193.0 76.8M193.0 76.8L194.1 78.7M194.1 83.4L193.0 86.3M193.0 86.3L190.1 86.3M190.1 86.3L187.2 86.3M187.2 86.3L185.4 84.8M185.4 84.8L183.6 83.4M183.6 83.4L183.2 80.8M186.5 74.6L187.2 73.4M187.2 86.3L187.2 88.2M183.6 83.4L181.4 83.7M193.0 86.3L195.9 87.9M244.6 80.5L247.2 82.1M247.2 82.1L246.8 83.4M246.9 82.8L249.5 84.5M257.2 88.0L258.5 88.0M247.5 81.4L250.1 83.0M257.8 86.6L259.1 86.6M247.2 82.1L249.8 83.8M257.5 87.3L258.8 87.3M258.8 87.3L260.8 87.6M265.6 89.8L268.5 91.8M268.5 91.8L267.6 94.8M267.6 94.8L266.6 97.7M266.6 97.7L262.7 97.3M262.7 97.3L258.8 97.0M258.8 97.0L258.8 92.2M258.8 92.2L258.8 87.3M268.5 91.8L270.8 90.5M270.8 90.5L273.1 89.2M273.1 89.2L275.2 87.4M273.1 89.2L274.4 90.8M247.2 82.1L248.1 80.5M266.6 97.7L266.3 100.2M258.8 97.0L257.2 99.9M257.2 99.9L255.6 102.8M255.6 102.8L253.3 102.5M253.3 102.5L251.1 102.2M251.1 102.2L249.1 101.6M249.1 101.6L247.2 100.9M247.2 100.9L245.2 99.6M241.4 99.2L239.4 100.2M239.4 100.2L239.1 103.2M239.1 103.2L238.8 106.1M238.8 106.1L241.4 106.4M241.4 106.4L244.0 106.7M244.0 106.7L245.6 103.8M245.6 103.8L247.2 100.9M238.8 106.1L236.5 106.4M244.0 106.7L242.3 108.5M244.0 106.7L244.6 109.3M255.6 102.8L254.8 104.4M237.4 97.7L239.4 98.3M239.4 98.3L239.4 99.2M239.4 99.2L239.4 100.2M253.6 38.5L255.4 37.4M255.4 37.4L257.6 37.0M257.6 37.0L259.8 36.7M259.8 36.7L262.0 37.8M262.0 37.8L264.1 38.8M264.1 38.8L265.2 39.9M263.8 42.1L261.2 43.2M261.2 43.2L258.3 42.5M258.3 42.5L255.4 41.8M255.4 41.8L253.6 40.7M261.2 43.2L261.1 44.9M264.1 38.8L266.2 38.1M268.9 41.8L271.4 42.5M271.4 42.5L273.9 40.6M279.1 39.9L281.6 41.0M281.6 41.0L281.2 44.0M281.2 44.0L280.9 46.9M280.9 46.9L278.4 47.6M278.4 47.6L275.8 48.3M275.8 48.3L273.6 45.4M273.6 45.4L271.4 42.5M281.6 41.0L282.4 37.8M284.9 33.0L286.7 31.6M286.7 31.6L287.1 29.8M286.7 31.6L288.1 33.3M275.8 48.3L273.6 49.8M280.9 46.9L282.9 47.7M280.9 46.9L282.7 49.0M252.3 61.3L255.2 62.4M255.2 62.4L254.7 63.8M252.7 59.7L255.6 60.8M255.6 60.8L255.0 62.3M252.5 60.5L255.4 61.6M255.4 61.6L254.9 63.0M254.9 63.0L255.4 61.6M255.4 61.6L257.9 61.2M257.9 61.2L260.5 60.8M260.5 60.8L261.6 62.2M264.5 63.7L266.3 63.7M266.3 63.7L269.2 64.1M274.8 65.6L277.3 66.7M277.3 66.7L276.6 69.6M276.6 69.6L275.8 72.5M275.8 72.5L272.5 73.2M272.5 73.2L269.2 73.9M269.2 73.9L267.8 71.8M267.8 71.8L266.3 69.6M266.3 69.6L266.3 66.7M266.3 66.7L266.3 63.7M277.3 66.7L279.5 65.2M279.5 65.2L281.6 63.7M281.6 63.7L283.1 60.8M277.3 66.7L281.3 67.1M269.2 73.9L267.4 75.4M275.8 72.5L276.9 75.4M216.6 23.3L218.1 22.7M213.6 21.9L215.0 21.1M211.5 16.0L212.9 15.9M209.7 11.0L210.4 12.2M207.6 17.6L207.8 19.0M193.7 13.9L192.7 14.9M185.7 21.2L186.7 20.2M188.6 24.9L190.0 24.9M180.6 21.9L181.9 22.9M174.0 30.0L173.4 31.5M180.6 44.4L181.3 43.2M182.1 50.2L180.8 49.7M170.4 45.8L171.4 46.8M188.3 55.3L189.0 54.1M188.9 53.9L189.0 55.5M188.6 54.6L188.1 55.9M166.0 51.7L167.2 52.5M176.3 72.5L177.4 71.7M167.6 76.8L168.2 75.5M163.9 81.9L165.5 81.5M186.5 74.6L187.3 75.8M193.0 76.8L193.4 75.5M183.6 83.4L184.5 82.3M247.2 82.1L246.0 82.7M258.8 87.3L259.1 88.7M268.5 91.8L267.3 92.6M266.6 97.7L267.8 98.5M273.1 89.2L274.1 90.2M255.6 102.8L254.7 101.5M239.4 100.2L240.1 101.4M244.0 106.7L243.6 105.3M255.4 37.4L255.2 38.8M264.1 38.8L264.1 37.4M255.4 41.8L255.5 40.4M280.9 46.9L281.7 48.0M275.8 48.3L275.1 49.5M255.6 60.8L254.9 62.1M255.4 61.6L256.4 60.6M255.4 61.6L254.5 60.5M266.3 63.7L267.0 62.5M281.6 63.7L280.2 63.6" stroke="#38aab2" stroke-width="2.40" stroke-linecap="round" fill="none"/>
<path d="M212.8 23.2L212.0 24.5M210.8 9.5L212.0 8.0M196.3 19.6L196.0 21.6M179.8 19.9L179.1 18.0M190.4 23.4L192.3 22.0M172.9 28.1L171.9 26.3M172.7 40.9L173.5 39.5M180.6 42.8L180.6 41.2M163.8 50.6L161.7 49.5M174.1 67.8L176.3 65.9M165.4 76.8L163.2 76.8M166.4 86.0L166.0 87.6M161.4 81.9L158.8 81.9M187.2 88.2L187.2 90.0M181.4 83.7L179.2 84.0M200.6 88.4L202.4 87.2M198.0 91.2L197.2 92.8M274.4 90.8L275.7 92.5M248.1 80.5L249.0 79.0M236.5 106.4L234.2 106.7M239.4 111.7L238.1 113.2M244.6 109.3L245.2 111.9M254.8 104.4L254.0 106.0M266.2 38.1L268.3 37.5M288.1 33.3L289.6 35.0M273.6 49.8L271.4 51.2M282.9 47.7L285.0 48.5M281.3 67.1L285.3 67.4M267.4 75.4L265.6 76.9M212.9 15.9L214.3 15.8M210.4 12.2L211.1 13.4M207.8 19.0L207.9 20.4M192.7 14.9L191.7 15.8M186.7 20.2L187.6 19.2M190.0 24.9L191.4 24.9M181.3 43.2L182.0 42.0M180.8 49.7L179.5 49.3M171.4 46.8L172.3 47.8M189.0 54.1L189.7 52.9M188.1 55.9L187.6 57.2M167.2 52.5L168.3 53.3M177.4 71.7L178.5 70.8M168.2 75.5L168.8 74.3M187.3 75.8L188.1 76.9M193.4 75.5L193.9 74.1M184.5 82.3L185.4 81.3M246.0 82.7L244.7 83.4M259.1 88.7L259.5 90.0M267.3 92.6L266.2 93.3M267.8 98.5L268.9 99.3M274.1 90.2L275.0 91.2M240.1 101.4L240.9 102.6M243.6 105.3L243.3 104.0M255.2 38.8L255.1 40.2M264.1 37.4L264.2 36.0M255.5 40.4L255.6 39.0M281.7 48.0L282.6 49.2M275.1 49.5L274.4 50.8M254.9 62.1L254.3 63.3M256.4 60.6L257.3 59.6M254.5 60.5L253.6 59.5M267.0 62.5L267.8 61.3M280.2 63.6L278.8 63.4" stroke="#b8b8b8" stroke-width="2.40" stroke-linecap="round" fill="none"/>
<path d="M189.3 12.5L187.2 12.5M187.2 12.5L185.3 11.2M187.2 12.5L185.8 15.1M171.4 30.7L168.9 31.4M168.9 31.4L166.8 29.9M168.9 31.4L168.6 33.2M164.9 55.3L163.8 58.9M163.8 58.9L160.6 58.2M163.8 58.9L165.3 57.8M163.8 58.9L164.6 62.0M275.2 87.4L277.3 85.6M265.0 104.8L264.0 106.7M264.0 106.7L265.3 108.7M264.0 106.7L262.1 107.1M284.1 54.5L283.8 57.8M283.8 57.8L287.1 59.2M283.8 57.8L282.7 57.5M283.1 60.8L284.5 57.8M277.6 81.9L277.3 85.6M277.3 85.6L279.9 87.8M277.3 85.6L278.4 83.8" stroke="#8a8420" stroke-width="2.40" stroke-linecap="round" fill="none"/>
<path d="M226.0 28.4L225.2 28.1M225.2 28.1L224.3 27.8M224.3 27.8L222.5 27.1M225.0 29.6L224.1 29.3M224.1 29.3L223.3 29.0M223.3 29.0L221.5 28.3M225.5 29.0L224.7 28.7M224.7 28.7L223.8 28.4M223.8 28.4L222.0 27.7M187.2 33.1L189.7 33.3M189.7 33.3L190.9 33.3M190.9 33.3L192.0 33.4M192.0 33.4L194.2 34.2M187.8 31.5L190.3 31.7M190.3 31.7L191.4 31.8M191.4 31.8L192.6 31.8M192.6 31.8L194.7 32.7M187.5 32.3L190.0 32.5M190.0 32.5L191.2 32.5M191.2 32.5L192.3 32.6M192.3 32.6L194.4 33.5M202.8 35.8L203.9 38.0M203.9 38.0L205.4 38.4M205.4 38.4L206.8 38.7M206.8 38.7L207.7 39.4M207.7 39.4L208.5 40.0M183.3 52.6L184.7 54.3M184.7 54.3L186.5 54.8M183.8 51.2L185.3 52.9M185.3 52.9L187.1 53.4M183.6 51.9L185.0 53.6M185.0 53.6L186.8 54.1M194.4 55.3L196.6 56.8M196.6 56.8L198.1 57.1M198.1 57.1L199.5 57.5M199.5 57.5L200.5 57.5M200.5 57.5L201.5 57.5M181.0 76.8L182.8 78.3M182.8 78.3L184.7 76.4M194.1 78.7L195.2 80.5M195.2 80.5L194.1 83.4M183.2 80.8L182.8 78.3M195.9 87.9L198.8 89.6M198.8 89.6L200.6 88.4M198.8 89.6L198.0 91.2M195.2 80.5L196.5 79.9M196.5 79.9L197.8 79.3M240.5 78.0L241.2 78.5M241.2 78.5L242.0 78.9M242.0 78.9L244.6 80.5M249.5 84.5L252.1 86.1M252.1 86.1L254.0 87.1M254.0 87.1L255.9 88.0M255.9 88.0L257.2 88.0M250.1 83.0L252.7 84.7M252.7 84.7L254.6 85.6M254.6 85.6L256.5 86.6M256.5 86.6L257.8 86.6M249.8 83.8L252.4 85.4M252.4 85.4L254.3 86.3M254.3 86.3L256.2 87.3M256.2 87.3L257.5 87.3M222.0 85.6L223.3 87.0M223.3 87.0L224.7 88.5M224.7 88.5L226.9 89.8M230.5 92.4L231.8 93.7M223.0 84.4L224.4 85.9M224.4 85.9L225.7 87.3M225.7 87.3L228.0 88.6M231.5 91.2L232.8 92.5M222.5 85.0L223.8 86.5M223.8 86.5L225.2 87.9M225.2 87.9L227.4 89.2M231.0 91.8L232.3 93.1M232.3 93.1L233.9 95.0M233.9 95.0L235.5 97.0M235.5 97.0L237.4 97.7M250.5 40.0L251.2 39.8M251.2 39.8L251.8 39.6M251.8 39.6L253.6 38.5M265.2 39.9L266.3 41.0M266.3 41.0L263.8 42.1M253.6 40.7L251.8 39.6M266.3 41.0L268.9 41.8M245.8 59.8L247.6 60.0M247.6 60.0L249.4 60.2M249.4 60.2L252.3 61.3M246.2 58.2L248.0 58.4M248.0 58.4L249.8 58.6M249.8 58.6L252.7 59.7M246.0 59.0L247.8 59.2M247.8 59.2L249.6 59.4M249.6 59.4L252.5 60.5M261.6 62.2L262.7 63.7M262.7 63.7L264.5 63.7" stroke="#4a5aff" stroke-width="0.96" stroke-linecap="round" fill="none"/>
<path d="M222.5 27.1L220.7 26.4M220.7 26.4L218.9 24.6M221.5 28.3L219.7 27.6M219.7 27.6L217.9 25.7M222.0 27.7L220.2 27.0M220.2 27.0L218.4 25.1M203.9 19.4L204.6 21.2M204.6 21.2L206.1 19.4M211.8 9.5L212.5 7.5M192.6 13.2L191.5 12.5M191.5 12.5L189.3 12.5M185.3 11.2L183.5 10.0M185.8 15.1L184.5 17.6M184.5 17.6L185.1 19.4M186.8 28.5L185.0 32.1M185.0 32.1L182.4 30.6M184.7 32.9L187.2 33.1M185.3 31.3L187.8 31.5M185.0 32.1L187.5 32.3M199.1 34.0L201.7 33.6M201.7 33.6L202.8 35.8M197.6 32.6L198.5 31.0M166.8 29.9L164.6 28.5M168.6 33.2L168.2 35.0M168.2 35.0L167.8 36.8M178.8 52.4L175.5 54.6M175.5 54.6L173.3 53.2M170.4 43.2L170.4 40.7M190.2 54.9L192.0 54.5M190.7 53.5L192.6 53.1M190.4 54.2L192.3 53.8M192.3 53.8L194.4 55.3M189.1 53.0L189.5 51.3M160.6 58.2L157.3 57.5M165.3 57.8L166.8 56.8M164.6 62.0L165.4 65.2M165.4 65.2L165.8 67.8M174.9 75.4L173.4 78.3M173.4 78.3L170.5 77.5M165.4 83.2L166.8 84.4M166.8 84.4L166.4 86.0M187.2 73.4L187.9 72.2M246.8 83.4L246.5 84.8M260.8 87.6L262.7 87.9M262.7 87.9L265.6 89.8M266.3 100.2L266.0 102.8M266.0 102.8L265.0 104.8M265.3 108.7L266.6 110.6M262.1 107.1L260.1 107.4M245.2 99.6L243.3 98.3M243.3 98.3L241.4 99.2M242.3 108.5L240.7 110.2M240.7 110.2L239.4 111.7M226.9 89.8L229.2 91.1M229.2 91.1L230.5 92.4M228.0 88.6L230.2 89.9M230.2 89.9L231.5 91.2M227.4 89.2L229.7 90.5M229.7 90.5L231.0 91.8M229.7 90.5L228.8 91.8M228.8 91.8L228.0 93.0M261.1 44.9L261.0 46.5M273.9 40.6L276.5 38.8M276.5 38.8L279.1 39.9M282.4 37.8L283.1 34.5M283.1 34.5L284.9 33.0M287.1 29.8L287.5 28.0M282.7 49.0L284.5 51.2M284.5 51.2L284.1 54.5M287.1 59.2L290.4 60.7M282.7 57.5L281.6 57.1M254.7 63.8L254.1 65.3M255.0 62.3L254.5 63.7M254.9 63.0L254.3 64.5M254.3 64.5L254.9 63.0M269.2 64.1L272.2 64.5M272.2 64.5L274.8 65.6M276.9 75.4L278.0 78.3M278.0 78.3L277.6 81.9M279.9 87.8L282.4 90.0M278.4 83.8L279.5 82.0M218.1 22.7L219.6 22.0M215.0 21.1L216.5 20.3M181.9 22.9L183.3 23.8M173.4 31.5L172.7 33.0M189.0 55.5L189.2 57.1M165.5 81.5L167.1 81.0M254.7 101.5L253.7 100.1" stroke="#ff5a4a" stroke-width="0.96" stroke-linecap="round" fill="none"/>
<path d="M218.9 24.6L217.1 22.7M217.9 25.7L216.1 23.9M218.4 25.1L216.6 23.3M216.6 23.3L215.1 22.6M215.1 22.6L213.6 21.9M213.6 21.9L212.6 18.9M212.6 18.9L211.5 16.0M211.5 16.0L211.3 13.8M211.3 13.8L211.2 11.5M211.2 11.5L210.4 11.2M210.4 11.2L209.7 11.0M209.7 11.0L206.8 11.3M206.8 11.3L203.9 11.7M203.9 11.7L203.6 14.7M203.6 14.7L203.2 17.6M203.2 17.6L203.9 19.4M206.1 19.4L207.6 17.6M207.6 17.6L209.4 16.8M209.4 16.8L211.2 16.0M213.6 21.9L212.8 23.2M211.2 11.5L211.8 9.5M209.7 11.0L210.8 9.5M203.2 17.6L201.8 16.9M201.8 16.9L200.3 16.1M200.3 16.1L198.4 16.9M198.4 16.9L196.6 17.6M196.6 17.6L195.1 15.8M195.1 15.8L193.7 13.9M193.7 13.9L192.6 13.2M185.1 19.4L185.7 21.2M185.7 21.2L187.1 23.0M187.1 23.0L188.6 24.9M188.6 24.9L186.8 28.5M182.4 30.6L179.9 29.2M179.9 29.2L180.2 25.5M180.2 25.5L180.6 21.9M180.6 21.9L183.1 21.5M183.1 21.5L185.7 21.2M196.6 17.6L196.3 19.6M180.6 21.9L179.8 19.9M188.6 24.9L190.4 23.4M194.2 34.2L196.3 35.1M194.7 32.7L196.9 33.5M194.4 33.5L196.6 34.3M196.6 34.3L199.1 34.0M196.6 34.3L197.6 32.6M179.9 29.2L176.9 29.6M176.9 29.6L174.0 30.0M174.0 30.0L171.4 30.7M167.8 36.8L167.3 38.5M167.3 38.5L169.6 40.4M169.6 40.4L171.9 42.3M171.9 42.3L173.4 42.6M173.4 42.6L174.8 42.9M174.8 42.9L177.7 43.6M177.7 43.6L180.6 44.4M180.6 44.4L181.3 47.3M181.3 47.3L182.1 50.2M182.1 50.2L178.8 52.4M173.3 53.2L171.1 51.7M171.1 51.7L170.8 48.8M170.8 48.8L170.4 45.8M170.4 45.8L172.6 44.3M172.6 44.3L174.8 42.9M174.0 30.0L172.9 28.1M171.9 42.3L172.7 40.9M170.4 45.8L170.4 43.2M180.6 44.4L180.6 42.8M181.8 50.9L183.3 52.6M186.5 54.8L188.3 55.3M188.3 55.3L190.2 54.9M182.4 49.5L183.8 51.2M187.1 53.4L188.9 53.9M188.9 53.9L190.7 53.5M182.1 50.2L183.6 51.9M186.8 54.1L188.6 54.6M188.6 54.6L190.4 54.2M188.6 54.6L189.1 53.0M171.1 51.7L168.6 51.7M168.6 51.7L166.0 51.7M166.0 51.7L164.9 55.3M166.0 51.7L163.8 50.6M165.8 67.8L166.1 70.3M166.1 70.3L169.0 69.9M169.0 69.9L171.9 69.6M171.9 69.6L174.1 71.0M174.1 71.0L176.3 72.5M176.3 72.5L174.9 75.4M170.5 77.5L167.6 76.8M167.6 76.8L166.8 73.5M166.8 73.5L166.1 70.3M171.9 69.6L174.1 67.8M167.6 76.8L165.4 76.8M167.6 76.8L165.8 79.3M165.8 79.3L163.9 81.9M163.9 81.9L165.4 83.2M163.9 81.9L161.4 81.9M176.3 72.5L177.8 74.0M177.8 74.0L179.2 75.4M179.2 75.4L181.0 76.8M184.7 76.4L186.5 74.6M186.5 74.6L189.8 75.7M189.8 75.7L193.0 76.8M193.0 76.8L194.1 78.7M194.1 83.4L193.0 86.3M193.0 86.3L190.1 86.3M190.1 86.3L187.2 86.3M187.2 86.3L185.4 84.8M185.4 84.8L183.6 83.4M183.6 83.4L183.2 80.8M186.5 74.6L187.2 73.4M187.2 86.3L187.2 88.2M183.6 83.4L181.4 83.7M193.0 86.3L195.9 87.9M244.6 80.5L247.2 82.1M247.2 82.1L246.8 83.4M246.9 82.8L249.5 84.5M257.2 88.0L258.5 88.0M247.5 81.4L250.1 83.0M257.8 86.6L259.1 86.6M247.2 82.1L249.8 83.8M257.5 87.3L258.8 87.3M258.8 87.3L260.8 87.6M265.6 89.8L268.5 91.8M268.5 91.8L267.6 94.8M267.6 94.8L266.6 97.7M266.6 97.7L262.7 97.3M262.7 97.3L258.8 97.0M258.8 97.0L258.8 92.2M258.8 92.2L258.8 87.3M268.5 91.8L270.8 90.5M270.8 90.5L273.1 89.2M273.1 89.2L275.2 87.4M273.1 89.2L274.4 90.8M247.2 82.1L248.1 80.5M266.6 97.7L266.3 100.2M258.8 97.0L257.2 99.9M257.2 99.9L255.6 102.8M255.6 102.8L253.3 102.5M253.3 102.5L251.1 102.2M251.1 102.2L249.1 101.6M249.1 101.6L247.2 100.9M247.2 100.9L245.2 99.6M241.4 99.2L239.4 100.2M239.4 100.2L239.1 103.2M239.1 103.2L238.8 106.1M238.8 106.1L241.4 106.4M241.4 106.4L244.0 106.7M244.0 106.7L245.6 103.8M245.6 103.8L247.2 100.9M238.8 106.1L236.5 106.4M244.0 106.7L242.3 108.5M244.0 106.7L244.6 109.3M255.6 102.8L254.8 104.4M237.4 97.7L239.4 98.3M239.4 98.3L239.4 99.2M239.4 99.2L239.4 100.2M253.6 38.5L255.4 37.4M255.4 37.4L257.6 37.0M257.6 37.0L259.8 36.7M259.8 36.7L262.0 37.8M262.0 37.8L264.1 38.8M264.1 38.8L265.2 39.9M263.8 42.1L261.2 43.2M261.2 43.2L258.3 42.5M258.3 42.5L255.4 41.8M255.4 41.8L253.6 40.7M261.2 43.2L261.1 44.9M264.1 38.8L266.2 38.1M268.9 41.8L271.4 42.5M271.4 42.5L273.9 40.6M279.1 39.9L281.6 41.0M281.6 41.0L281.2 44.0M281.2 44.0L280.9 46.9M280.9 46.9L278.4 47.6M278.4 47.6L275.8 48.3M275.8 48.3L273.6 45.4M273.6 45.4L271.4 42.5M281.6 41.0L282.4 37.8M284.9 33.0L286.7 31.6M286.7 31.6L287.1 29.8M286.7 31.6L288.1 33.3M275.8 48.3L273.6 49.8M280.9 46.9L282.9 47.7M280.9 46.9L282.7 49.0M252.3 61.3L255.2 62.4M255.2 62.4L254.7 63.8M252.7 59.7L255.6 60.8M255.6 60.8L255.0 62.3M252.5 60.5L255.4 61.6M255.4 61.6L254.9 63.0M254.9 63.0L255.4 61.6M255.4 61.6L257.9 61.2M257.9 61.2L260.5 60.8M260.5 60.8L261.6 62.2M264.5 63.7L266.3 63.7M266.3 63.7L269.2 64.1M274.8 65.6L277.3 66.7M277.3 66.7L276.6 69.6M276.6 69.6L275.8 72.5M275.8 72.5L272.5 73.2M272.5 73.2L269.2 73.9M269.2 73.9L267.8 71.8M267.8 71.8L266.3 69.6M266.3 69.6L266.3 66.7M266.3 66.7L266.3 63.7M277.3 66.7L279.5 65.2M279.5 65.2L281.6 63.7M281.6 63.7L283.1 60.8M277.3 66.7L281.3 67.1M269.2 73.9L267.4 75.4M275.8 72.5L276.9 75.4M216.6 23.3L218.1 22.7M213.6 21.9L215.0 21.1M211.5 16.0L212.9 15.9M209.7 11.0L210.4 12.2M207.6 17.6L207.8 19.0M193.7 13.9L192.7 14.9M185.7 21.2L186.7 20.2M188.6 24.9L190.0 24.9M180.6 21.9L181.9 22.9M174.0 30.0L173.4 31.5M180.6 44.4L181.3 43.2M182.1 50.2L180.8 49.7M170.4 45.8L171.4 46.8M188.3 55.3L189.0 54.1M188.9 53.9L189.0 55.5M188.6 54.6L188.1 55.9M166.0 51.7L167.2 52.5M176.3 72.5L177.4 71.7M167.6 76.8L168.2 75.5M163.9 81.9L165.5 81.5M186.5 74.6L187.3 75.8M193.0 76.8L193.4 75.5M183.6 83.4L184.5 82.3M247.2 82.1L246.0 82.7M258.8 87.3L259.1 88.7M268.5 91.8L267.3 92.6M266.6 97.7L267.8 98.5M273.1 89.2L274.1 90.2M255.6 102.8L254.7 101.5M239.4 100.2L240.1 101.4M244.0 106.7L243.6 105.3M255.4 37.4L255.2 38.8M264.1 38.8L264.1 37.4M255.4 41.8L255.5 40.4M280.9 46.9L281.7 48.0M275.8 48.3L275.1 49.5M255.6 60.8L254.9 62.1M255.4 61.6L256.4 60.6M255.4 61.6L254.5 60.5M266.3 63.7L267.0 62.5M281.6 63.7L280.2 63.6" stroke="#86e2e8" stroke-width="0.96" stroke-linecap="round" fill="none"/>
<path d="M212.8 23.2L212.0 24.5M210.8 9.5L212.0 8.0M196.3 19.6L196.0 21.6M179.8 19.9L179.1 18.0M190.4 23.4L192.3 22.0M172.9 28.1L171.9 26.3M172.7 40.9L173.5 39.5M180.6 42.8L180.6 41.2M163.8 50.6L161.7 49.5M174.1 67.8L176.3 65.9M165.4 76.8L163.2 76.8M166.4 86.0L166.0 87.6M161.4 81.9L158.8 81.9M187.2 88.2L187.2 90.0M181.4 83.7L179.2 84.0M200.6 88.4L202.4 87.2M198.0 91.2L197.2 92.8M274.4 90.8L275.7 92.5M248.1 80.5L249.0 79.0M236.5 106.4L234.2 106.7M239.4 111.7L238.1 113.2M244.6 109.3L245.2 111.9M254.8 104.4L254.0 106.0M266.2 38.1L268.3 37.5M288.1 33.3L289.6 35.0M273.6 49.8L271.4 51.2M282.9 47.7L285.0 48.5M281.3 67.1L285.3 67.4M267.4 75.4L265.6 76.9M212.9 15.9L214.3 15.8M210.4 12.2L211.1 13.4M207.8 19.0L207.9 20.4M192.7 14.9L191.7 15.8M186.7 20.2L187.6 19.2M190.0 24.9L191.4 24.9M181.3 43.2L182.0 42.0M180.8 49.7L179.5 49.3M171.4 46.8L172.3 47.8M189.0 54.1L189.7 52.9M188.1 55.9L187.6 57.2M167.2 52.5L168.3 53.3M177.4 71.7L178.5 70.8M168.2 75.5L168.8 74.3M187.3 75.8L188.1 76.9M193.4 75.5L193.9 74.1M184.5 82.3L185.4 81.3M246.0 82.7L244.7 83.4M259.1 88.7L259.5 90.0M267.3 92.6L266.2 93.3M267.8 98.5L268.9 99.3M274.1 90.2L275.0 91.2M240.1 101.4L240.9 102.6M243.6 105.3L243.3 104.0M255.2 38.8L255.1 40.2M264.1 37.4L264.2 36.0M255.5 40.4L255.6 39.0M281.7 48.0L282.6 49.2M275.1 49.5L274.4 50.8M254.9 62.1L254.3 63.3M256.4 60.6L257.3 59.6M254.5 60.5L253.6 59.5M267.0 62.5L267.8 61.3M280.2 63.6L278.8 63.4" stroke="#f2f2f2" stroke-width="0.96" stroke-linecap="round" fill="none"/>
<path d="M189.3 12.5L187.2 12.5M187.2 12.5L185.3 11.2M187.2 12.5L185.8 15.1M171.4 30.7L168.9 31.4M168.9 31.4L166.8 29.9M168.9 31.4L168.6 33.2M164.9 55.3L163.8 58.9M163.8 58.9L160.6 58.2M163.8 58.9L165.3 57.8M163.8 58.9L164.6 62.0M275.2 87.4L277.3 85.6M265.0 104.8L264.0 106.7M264.0 106.7L265.3 108.7M264.0 106.7L262.1 107.1M284.1 54.5L283.8 57.8M283.8 57.8L287.1 59.2M283.8 57.8L282.7 57.5M283.1 60.8L284.5 57.8M277.6 81.9L277.3 85.6M277.3 85.6L279.9 87.8M277.3 85.6L278.4 83.8" stroke="#c8c050" stroke-width="0.96" stroke-linecap="round" fill="none"/>
<circle cx="212.9" cy="41.8" r="5.3" fill="url(#gred)"/>
<circle cx="207.6" cy="56.6" r="5.3" fill="url(#gred)"/>
<circle cx="202.4" cy="76.6" r="5.3" fill="url(#gred)"/>
<circle cx="235.0" cy="41.8" r="6.3" fill="url(#gsil)"/>
<circle cx="223.4" cy="46.1" r="6.3" fill="url(#gsil)"/>
<circle cx="229.7" cy="56.6" r="6.3" fill="url(#gsil)"/>
<circle cx="218.2" cy="60.8" r="6.3" fill="url(#gsil)"/>
<circle cx="224.5" cy="70.3" r="6.3" fill="url(#gsil)"/>
<circle cx="212.9" cy="74.5" r="6.3" fill="url(#gsil)"/>
<circle cx="229.7" cy="32.4" r="5.3" fill="url(#gred)"/>
<circle cx="245.5" cy="40.8" r="5.3" fill="url(#gred)"/>
<circle cx="240.3" cy="58.7" r="5.3" fill="url(#gred)"/>
<circle cx="236.1" cy="75.5" r="5.3" fill="url(#gred)"/>
<circle cx="220.3" cy="80.8" r="5.3" fill="url(#gred)"/>
<line x1="38.5" y1="133.0" x2="38.5" y2="255.5" stroke="#111" stroke-width="1.30"/>
<line x1="38.0" y1="255.2" x2="277.0" y2="255.2" stroke="#111" stroke-width="1.30"/>
<line x1="277.0" y1="255.2" x2="283.0" y2="255.2" stroke="#bbb" stroke-width="1.00"/>
<line x1="277.0" y1="133.5" x2="277.0" y2="255.5" stroke="#111" stroke-width="1.30"/>
<line x1="47.3" y1="255.0" x2="47.3" y2="259.5" stroke="#222" stroke-width="1.00"/>
<line x1="93.1" y1="255.0" x2="93.1" y2="259.5" stroke="#222" stroke-width="1.00"/>
<line x1="138.9" y1="255.0" x2="138.9" y2="259.5" stroke="#222" stroke-width="1.00"/>
<line x1="184.7" y1="255.0" x2="184.7" y2="259.5" stroke="#222" stroke-width="1.00"/>
<line x1="230.5" y1="255.0" x2="230.5" y2="259.5" stroke="#222" stroke-width="1.00"/>
<line x1="276.3" y1="255.0" x2="276.3" y2="259.5" stroke="#222" stroke-width="1.00"/>
<rect x="42.0" y="247.3" width="13.6" height="7.9" fill="#000"/>
<rect x="62.6" y="233.6" width="13.6" height="21.6" fill="#000"/>
<rect x="83.2" y="184.6" width="13.6" height="70.6" fill="#000"/>
<rect x="103.9" y="236.5" width="13.6" height="18.7" fill="#000"/>
<rect x="124.5" y="230.8" width="13.6" height="24.4" fill="#000"/>
<rect x="145.1" y="203.5" width="13.6" height="51.7" fill="#000"/>
<rect x="165.7" y="146.8" width="13.6" height="108.4" fill="#000"/>
<rect x="186.3" y="187.1" width="13.6" height="68.1" fill="#000"/>
<rect x="207.0" y="198.3" width="13.6" height="56.9" fill="#000"/>
<rect x="227.6" y="233.6" width="13.6" height="21.6" fill="#000"/>
<rect x="248.2" y="253.1" width="13.6" height="2.1" fill="#000"/>
<polyline points="47.6,252.4 48.6,251.9 49.6,251.4 50.6,250.7 51.6,249.9 52.6,249.1 53.6,248.1 54.6,247.1 55.6,245.9 56.6,244.6 57.6,243.1 58.6,241.5 59.6,239.8 60.6,238.0 61.6,236.0 62.6,233.9 63.6,231.6 64.6,229.3 65.6,226.8 66.6,224.2 67.6,221.6 68.6,218.9 69.6,216.2 70.6,213.4 71.6,210.7 72.6,208.0 73.6,205.3 74.6,202.8 75.6,200.3 76.6,198.1 77.6,196.0 78.6,194.0 79.6,192.4 80.6,190.9 81.6,189.7 82.6,188.8 83.6,188.2 84.6,187.9 85.6,187.9 86.6,188.2 87.6,188.8 88.6,189.7 89.6,190.8 90.6,192.2 91.6,193.9 92.6,195.7 93.6,197.8 94.6,200.0 95.6,202.3 96.6,204.7 97.6,207.3 98.6,209.8 99.6,212.4 100.6,215.0 101.6,217.5 102.6,220.0 103.6,222.3 104.6,224.6 105.6,226.8 106.6,228.8 107.6,230.7 108.6,232.5 109.6,234.0 110.6,235.4 111.6,236.7 112.6,237.8 113.6,238.7 114.6,239.4 115.6,240.0 116.6,240.4 117.6,240.6 118.6,240.7 119.6,240.7 120.6,240.5 121.6,240.2 122.6,239.7 123.6,239.2 124.6,238.5 125.6,237.7 126.6,236.8 127.6,235.8 128.6,234.7 129.6,233.6 130.6,232.3 131.6,230.9 132.6,229.5 133.6,228.0 134.6,226.4 135.6,224.7 136.6,223.0 137.6,221.1 138.6,219.3 139.6,217.3 140.6,215.3 141.6,213.3 142.6,211.2 143.6,209.0 144.6,206.8 145.6,204.5 146.6,202.3 147.6,199.9 148.6,197.6 149.6,195.2 150.6,192.9 151.6,190.5 152.6,188.1 153.6,185.7 154.6,183.3 155.6,180.9 156.6,178.6 157.6,176.2 158.6,174.0 159.6,171.7 160.6,169.5 161.6,167.4 162.6,165.3 163.6,163.3 164.6,161.4 165.6,159.5 166.6,157.8 167.6,156.1 168.6,154.6 169.6,153.2 170.6,151.8 171.6,150.6 172.6,149.5 173.6,148.6 174.6,147.8 175.6,147.1 176.6,146.5 177.6,146.1 178.6,145.8 179.6,145.7 180.6,145.7 181.6,145.9 182.6,146.2 183.6,146.6 184.6,147.2 185.6,147.9 186.6,148.8 187.6,149.7 188.6,150.9 189.6,152.1 190.6,153.4 191.6,154.9 192.6,156.5 193.6,158.1 194.6,159.9 195.6,161.8 196.6,163.7 197.6,165.7 198.6,167.8 199.6,169.9 200.6,172.2 201.6,174.4 202.6,176.7 203.6,179.0 204.6,181.4 205.6,183.8 206.6,186.1 207.6,188.5 208.6,190.9 209.6,193.3 210.6,195.7 211.6,198.1 212.6,200.4 213.6,202.7 214.6,205.0 215.6,207.3 216.6,209.5 217.6,211.6 218.6,213.7 219.6,215.8 220.6,217.8 221.6,219.7 222.6,221.6 223.6,223.5 224.6,225.2 225.6,227.0 226.6,228.6 227.6,230.2 228.6,231.7 229.6,233.2 230.6,234.6 231.6,235.9 232.6,237.2 233.6,238.4 234.6,239.5 235.6,240.6 236.6,241.6 237.6,242.6 238.6,243.5 239.6,244.4 240.6,245.2 241.6,246.0 242.6,246.7 243.6,247.4 244.6,248.0 245.6,248.6 246.6,249.1 247.6,249.6 248.6,250.1 249.6,250.5 250.6,250.9 251.6,251.3 252.6,251.7 253.6,252.0 254.6,252.3 255.6,252.6 256.6,252.8 257.6,253.0 258.6,253.2" fill="none" stroke="#e8261a" stroke-width="1.3"/>
<line x1="93.4" y1="176.0" x2="82.6" y2="95.3" stroke="#8a8a8a" stroke-width="1.60"/>
<path d="M82.6,95.3 L90.1,105.9 L83.7,103.5 L78.2,107.5 Z" fill="#8a8a8a"/>
<line x1="186.1" y1="143.6" x2="198.8" y2="100.3" stroke="#8a8a8a" stroke-width="1.60"/>
<path d="M198.8,100.3 L201.3,113.0 L196.5,108.2 L189.8,109.6 Z" fill="#8a8a8a"/>
<rect x="362.7" y="47.6" width="202.7" height="191.8" fill="none" stroke="#222" stroke-width="1.2"/>
<line x1="357.0" y1="239.4" x2="362.7" y2="239.4" stroke="#222" stroke-width="1.20"/>
<line x1="357.0" y1="191.4" x2="362.7" y2="191.4" stroke="#222" stroke-width="1.20"/>
<line x1="357.0" y1="143.5" x2="362.7" y2="143.5" stroke="#222" stroke-width="1.20"/>
<line x1="357.0" y1="95.6" x2="362.7" y2="95.6" stroke="#222" stroke-width="1.20"/>
<line x1="357.0" y1="47.6" x2="362.7" y2="47.6" stroke="#222" stroke-width="1.20"/>
<line x1="370.3" y1="239.4" x2="370.3" y2="244.8" stroke="#222" stroke-width="1.20"/>
<line x1="385.9" y1="239.4" x2="385.9" y2="242.4" stroke="#222" stroke-width="1.20"/>
<line x1="401.6" y1="239.4" x2="401.6" y2="244.8" stroke="#222" stroke-width="1.20"/>
<line x1="417.2" y1="239.4" x2="417.2" y2="242.4" stroke="#222" stroke-width="1.20"/>
<line x1="432.8" y1="239.4" x2="432.8" y2="244.8" stroke="#222" stroke-width="1.20"/>
<line x1="448.5" y1="239.4" x2="448.5" y2="242.4" stroke="#222" stroke-width="1.20"/>
<line x1="464.1" y1="239.4" x2="464.1" y2="244.8" stroke="#222" stroke-width="1.20"/>
<line x1="479.7" y1="239.4" x2="479.7" y2="242.4" stroke="#222" stroke-width="1.20"/>
<line x1="495.3" y1="239.4" x2="495.3" y2="244.8" stroke="#222" stroke-width="1.20"/>
<line x1="511.0" y1="239.4" x2="511.0" y2="242.4" stroke="#222" stroke-width="1.20"/>
<line x1="526.6" y1="239.4" x2="526.6" y2="244.8" stroke="#222" stroke-width="1.20"/>
<line x1="542.2" y1="239.4" x2="542.2" y2="242.4" stroke="#222" stroke-width="1.20"/>
<line x1="557.9" y1="239.4" x2="557.9" y2="244.8" stroke="#222" stroke-width="1.20"/>
<rect x="368.2" y="135.0" width="4.3" height="104.4" fill="#1024d2"/>
<rect x="383.8" y="231.0" width="4.3" height="8.4" fill="#1024d2"/>
<rect x="399.4" y="183.0" width="4.3" height="56.4" fill="#1024d2"/>
<rect x="415.0" y="231.0" width="4.3" height="8.4" fill="#1024d2"/>
<rect x="430.7" y="67.8" width="4.3" height="171.6" fill="#1024d2"/>
<rect x="446.3" y="221.4" width="4.3" height="18.0" fill="#1024d2"/>
<rect x="461.9" y="58.2" width="4.3" height="181.2" fill="#1024d2"/>
<rect x="477.6" y="211.8" width="4.3" height="27.6" fill="#1024d2"/>
<rect x="493.2" y="211.8" width="4.3" height="27.6" fill="#1024d2"/>
<rect x="508.8" y="231.0" width="4.3" height="8.4" fill="#1024d2"/>
<rect x="524.5" y="211.8" width="4.3" height="27.6" fill="#1024d2"/>
<rect x="540.1" y="231.0" width="4.3" height="8.4" fill="#1024d2"/>
<rect x="555.7" y="221.4" width="4.3" height="18.0" fill="#1024d2"/>
<line x1="401.6" y1="47.6" x2="401.6" y2="239.4" stroke="#111" stroke-width="1.5" stroke-dasharray="3.8,4.6"/>
<line x1="495.3" y1="47.6" x2="495.3" y2="239.4" stroke="#111" stroke-width="1.5" stroke-dasharray="3.8,4.6"/>
<rect x="658.4" y="11.6" width="146.0" height="248.8" fill="none" stroke="#4a4a4a" stroke-width="1.3"/>
<line x1="673.3" y1="260.4" x2="673.3" y2="266.6" stroke="#333" stroke-width="1.20"/>
<line x1="673.3" y1="11.6" x2="673.3" y2="9.0" stroke="#333" stroke-width="1.20"/>
<line x1="720.7" y1="260.4" x2="720.7" y2="266.6" stroke="#333" stroke-width="1.20"/>
<line x1="720.7" y1="11.6" x2="720.7" y2="9.0" stroke="#333" stroke-width="1.20"/>
<line x1="768.1" y1="260.4" x2="768.1" y2="266.6" stroke="#333" stroke-width="1.20"/>
<line x1="768.1" y1="11.6" x2="768.1" y2="9.0" stroke="#333" stroke-width="1.20"/>
<line x1="658.4" y1="53.6" x2="664.4" y2="53.6" stroke="#333" stroke-width="1.10"/>
<line x1="804.4" y1="53.6" x2="798.4" y2="53.6" stroke="#333" stroke-width="1.10"/>
<line x1="658.4" y1="102.2" x2="664.4" y2="102.2" stroke="#333" stroke-width="1.10"/>
<line x1="804.4" y1="102.2" x2="798.4" y2="102.2" stroke="#333" stroke-width="1.10"/>
<line x1="658.4" y1="150.9" x2="664.4" y2="150.9" stroke="#333" stroke-width="1.10"/>
<line x1="804.4" y1="150.9" x2="798.4" y2="150.9" stroke="#333" stroke-width="1.10"/>
<line x1="658.4" y1="199.6" x2="664.4" y2="199.6" stroke="#333" stroke-width="1.10"/>
<line x1="804.4" y1="199.6" x2="798.4" y2="199.6" stroke="#333" stroke-width="1.10"/>
<line x1="658.4" y1="248.4" x2="664.4" y2="248.4" stroke="#333" stroke-width="1.10"/>
<line x1="804.4" y1="248.4" x2="798.4" y2="248.4" stroke="#333" stroke-width="1.10"/>
<path d="M661.5,102.2 C663.8,102.2 670.6,102.5 675.5,102.0 C680.4,101.5 687.1,100.4 691.0,99.4 C694.9,98.4 696.0,97.0 698.8,96.0 C701.6,95.0 705.1,93.6 707.9,93.6 C710.7,93.6 713.7,95.1 715.7,96.0 C717.7,96.9 718.2,98.1 720.0,98.9 C721.8,99.7 724.4,100.4 726.5,101.0 C728.6,101.6 730.8,102.1 732.9,102.6 C735.0,103.1 737.2,103.1 739.4,103.8 C741.6,104.5 743.7,105.2 745.9,107.0 C748.1,108.8 750.4,112.1 752.4,114.3 C754.4,116.5 756.4,118.8 758.0,120.0 C759.6,121.2 760.6,121.6 762.1,121.6 C763.6,121.6 764.9,121.0 766.9,120.0 C768.9,119.0 771.8,116.5 774.3,115.6 C776.8,114.7 779.4,115.2 782.0,114.6 C784.6,114.0 787.5,113.4 789.8,112.2 C792.1,111.0 793.9,109.1 795.6,107.3 C797.3,105.5 799.0,102.3 800.1,101.2 C801.2,100.1 802.1,100.5 802.5,100.4" fill="none" stroke="#111" stroke-width="1.7" stroke-linejoin="round"/>
<path d="M661.5,102.2 C663.8,102.2 671.1,102.5 675.0,102.0 C678.9,101.5 681.9,100.6 684.6,99.4 C687.3,98.2 688.7,97.6 691.1,94.7 C693.5,91.8 696.8,85.2 698.8,81.8 C700.8,78.3 701.6,75.7 703.0,74.0 C704.4,72.3 706.0,71.6 707.4,71.6 C708.8,71.6 710.1,72.3 711.5,74.0 C712.9,75.7 714.1,78.8 715.7,81.8 C717.3,84.8 719.2,89.3 721.0,92.0 C722.8,94.7 724.4,96.1 726.5,98.1 C728.6,100.1 731.8,101.9 733.8,103.8 C735.8,105.7 737.1,107.1 738.6,109.4 C740.1,111.7 741.5,114.5 742.7,117.5 C743.9,120.5 744.8,123.7 745.9,127.2 C747.0,130.7 747.6,133.2 749.1,138.5 C750.6,143.8 753.1,153.4 754.6,159.1 C756.1,164.8 757.3,169.7 758.4,172.7 C759.5,175.7 760.4,177.0 761.4,177.3 C762.4,177.6 763.2,177.1 764.3,174.7 C765.4,172.3 766.9,166.9 768.2,163.0 C769.5,159.1 770.7,154.5 772.0,151.4 C773.3,148.3 774.6,146.1 775.9,144.6 C777.2,143.1 778.3,142.9 779.8,142.6 C781.3,142.3 783.3,143.1 784.7,142.6 C786.1,142.1 787.2,141.1 788.2,139.7 C789.2,138.2 789.9,137.5 790.9,133.9 C791.9,130.3 793.0,122.9 794.0,118.0 C795.0,113.1 795.9,107.9 796.6,104.4 C797.4,101.0 798.2,98.5 798.5,97.3" fill="none" stroke="#f51c0c" stroke-width="3.6" stroke-linejoin="round"/>
<path d="M661.5,102.2 C663.2,102.2 668.8,102.3 672.0,102.2 C675.2,102.1 678.2,102.9 680.7,101.5 C683.2,100.1 684.8,97.3 687.0,94.0 C689.2,90.7 691.7,88.1 693.7,81.8 C695.7,75.5 697.3,61.9 698.8,55.9 C700.3,49.9 701.4,47.8 702.7,45.5 C704.0,43.2 705.3,41.9 706.6,41.9 C707.9,41.9 709.2,43.2 710.5,45.5 C711.8,47.8 713.1,51.1 714.4,55.9 C715.7,60.6 716.8,68.4 718.3,74.0 C719.8,79.6 721.6,85.8 723.2,89.5 C724.8,93.2 726.5,94.3 728.1,96.5 C729.7,98.7 731.5,100.8 732.9,102.9 C734.2,105.1 735.1,106.4 736.2,109.4 C737.3,112.4 738.3,116.9 739.4,120.7 C740.5,124.5 741.6,126.7 742.7,132.1 C743.8,137.5 744.8,145.6 745.8,153.3 C746.8,161.0 747.9,171.6 748.7,178.5 C749.5,185.4 749.8,187.9 750.6,195.0 C751.4,202.1 752.3,212.7 753.3,220.9 C754.3,229.1 755.6,238.3 756.7,244.2 C757.8,250.1 758.7,255.8 759.8,256.2 C760.9,256.6 762.0,252.7 763.1,246.8 C764.2,240.9 765.1,229.2 766.2,220.9 C767.3,212.6 768.7,202.2 769.5,197.0 C770.3,191.8 770.4,193.7 771.1,190.0 C771.9,186.3 772.9,179.4 774.0,174.7 C775.1,170.0 776.6,164.6 777.9,162.0 C779.2,159.4 780.4,160.1 781.7,159.1 C783.0,158.1 784.5,157.8 785.6,156.2 C786.7,154.6 787.6,152.2 788.5,149.4 C789.4,146.7 790.1,144.6 790.9,139.7 C791.6,134.8 792.3,127.1 793.0,120.0 C793.7,112.9 794.8,101.1 795.2,97.3" fill="none" stroke="#1838ee" stroke-width="1.8" stroke-linejoin="round"/>
<line x1="666.4" y1="187.6" x2="695.9" y2="187.6" stroke="#1838ee" stroke-width="1.80"/>
<line x1="666.4" y1="205.5" x2="695.9" y2="205.5" stroke="#f51c0c" stroke-width="3.60"/>
<line x1="666.4" y1="223.5" x2="695.9" y2="223.5" stroke="#111" stroke-width="1.70"/>
<polyline points="698.7,22.9 714.7,28.7 731.7,31.6 749.8,31.2 767.3,27.9 783.8,21.9" fill="none" stroke="#b8b8b8" stroke-width="1.2"/>
<circle cx="698.7" cy="22.9" r="4.5" fill="url(#gsph)"/>
<circle cx="714.7" cy="28.7" r="4.4" fill="url(#gsph)"/>
<circle cx="731.7" cy="31.6" r="4.6" fill="url(#gsph)"/>
<circle cx="749.8" cy="31.2" r="4.6" fill="url(#gsph)"/>
<circle cx="767.3" cy="27.9" r="4.4" fill="url(#gsph)"/>
<circle cx="783.8" cy="21.9" r="4.7" fill="url(#gsph)"/>
<polyline points="724.0,50.2 734.3,55.1 750.2,57.8 768.1,57.4 784.6,52.6 794.9,45.2" fill="none" stroke="#b8b8b8" stroke-width="1.2"/>
<circle cx="724.0" cy="50.2" r="4.0" fill="url(#gsph)"/>
<circle cx="734.3" cy="55.1" r="4.3" fill="url(#gsph)"/>
<circle cx="750.2" cy="57.8" r="4.6" fill="url(#gsph)"/>
<circle cx="768.1" cy="57.4" r="4.6" fill="url(#gsph)"/>
<circle cx="784.6" cy="52.6" r="4.3" fill="url(#gsph)"/>
<circle cx="794.9" cy="45.2" r="4.2" fill="url(#gsph)"/>
<polyline points="739.8,73.8 745.6,81.2 760.2,89.0 778.3,89.6 791.7,82.2 796.7,70.5" fill="none" stroke="#b8b8b8" stroke-width="1.2"/>
<circle cx="739.8" cy="73.8" r="4.0" fill="url(#gsph)"/>
<circle cx="745.6" cy="81.2" r="4.3" fill="url(#gsph)"/>
<circle cx="760.2" cy="89.0" r="4.6" fill="url(#gsph)"/>
<circle cx="778.3" cy="89.6" r="4.6" fill="url(#gsph)"/>
<circle cx="791.7" cy="82.2" r="4.3" fill="url(#gsph)"/>
<circle cx="796.7" cy="70.5" r="4.0" fill="url(#gsph)"/>
<rect x="812.3" y="10.6" width="139.9" height="244.9" fill="none" stroke="#222" stroke-width="1.2"/>
<line x1="812.3" y1="134.7" x2="952.2" y2="134.7" stroke="#111" stroke-width="1.20"/>
<line x1="838.6" y1="255.5" x2="838.6" y2="263.3" stroke="#222" stroke-width="1.20"/>
<line x1="838.6" y1="10.6" x2="838.6" y2="9.0" stroke="#222" stroke-width="1.20"/>
<line x1="905.7" y1="255.5" x2="905.7" y2="263.3" stroke="#222" stroke-width="1.20"/>
<line x1="905.7" y1="10.6" x2="905.7" y2="9.0" stroke="#222" stroke-width="1.20"/>
<line x1="812.3" y1="72.8" x2="809.3" y2="72.8" stroke="#222" stroke-width="1.10"/>
<line x1="952.2" y1="72.8" x2="959.7" y2="72.8" stroke="#222" stroke-width="1.10"/>
<line x1="812.3" y1="134.7" x2="809.3" y2="134.7" stroke="#222" stroke-width="1.10"/>
<line x1="952.2" y1="134.7" x2="959.7" y2="134.7" stroke="#222" stroke-width="1.10"/>
<line x1="812.3" y1="196.8" x2="809.3" y2="196.8" stroke="#222" stroke-width="1.10"/>
<line x1="952.2" y1="196.8" x2="959.7" y2="196.8" stroke="#222" stroke-width="1.10"/>
<path d="M815.7,135.5 C816.2,135.3 817.9,134.5 819.0,134.2 C820.1,133.8 821.4,133.3 822.5,133.4 C823.6,133.5 824.4,135.5 825.4,134.6 C826.4,133.7 827.6,130.4 828.5,128.0 C829.4,125.6 830.1,123.7 831.0,120.0 C831.9,116.3 833.2,111.8 834.1,106.0 C835.0,100.2 835.7,92.7 836.5,85.0 C837.3,77.3 838.1,67.9 838.9,60.1 C839.7,52.3 840.5,43.5 841.2,38.0 C841.9,32.5 842.6,27.2 843.3,27.2 C844.0,27.2 844.8,32.5 845.5,38.0 C846.2,43.5 846.9,51.8 847.6,60.1 C848.4,68.4 849.1,79.5 850.0,88.0 C850.9,96.5 851.8,104.9 853.0,111.0 C854.2,117.1 855.7,121.3 857.4,124.5 C859.1,127.7 861.0,128.9 863.3,130.0 C865.6,131.1 868.8,130.4 871.0,130.9 C873.2,131.4 874.8,131.8 876.8,133.0 C878.8,134.2 881.2,136.5 882.7,138.3 C884.2,140.1 884.9,141.2 886.0,144.0 C887.1,146.8 888.3,148.9 889.5,155.0 C890.7,161.1 891.8,171.3 893.1,180.5 C894.4,189.7 896.2,201.9 897.3,210.0 C898.3,218.1 898.7,224.1 899.4,228.8 C900.1,233.6 900.7,236.2 901.4,238.5 C902.1,240.8 902.9,242.6 903.7,242.6 C904.5,242.6 905.3,240.8 906.2,238.5 C907.1,236.2 908.1,231.7 909.1,228.8 C910.1,225.9 910.9,222.8 912.0,221.1 C913.1,219.4 914.4,218.9 915.5,218.9 C916.6,218.9 917.6,219.7 918.8,221.1 C920.0,222.5 921.5,226.1 922.7,227.6 C923.9,229.1 925.1,230.3 926.2,230.3 C927.3,230.3 928.5,229.8 929.5,227.6 C930.5,225.4 931.4,221.2 932.4,217.2 C933.4,213.2 934.3,208.1 935.3,203.6 C936.3,199.1 936.9,198.8 938.3,190.0 C939.7,181.2 942.0,161.0 943.6,151.0 C945.2,141.0 946.8,134.8 947.8,130.0 C948.8,125.2 949.0,123.3 949.3,122.0" fill="none" stroke="#1a32ee" stroke-width="3.6" stroke-linejoin="round" stroke-linecap="round"/>
<text x="102.55" y="135.90" font-family='"Liberation Sans", sans-serif' font-size="15.21" fill="#111" textLength="11.81" lengthAdjust="spacingAndGlyphs" stroke="#111" stroke-width="0.20" stroke-linejoin="round">N</text>
<text x="113.45" y="140.25" font-family='"Liberation Sans", sans-serif' font-size="11.50" fill="#111" textLength="6.08" lengthAdjust="spacingAndGlyphs" stroke="#111" stroke-width="0.15" stroke-linejoin="round">0</text>
<text x="123.40" y="135.85" font-family='"Liberation Sans", sans-serif' font-size="14.72" fill="#111" textLength="20.72" lengthAdjust="spacingAndGlyphs" stroke="#111" stroke-width="0.20" stroke-linejoin="round">= 4</text>
<text x="208.35" y="135.65" font-family='"Liberation Sans", sans-serif' font-size="14.65" fill="#111" textLength="11.43" lengthAdjust="spacingAndGlyphs" stroke="#111" stroke-width="0.20" stroke-linejoin="round">N</text>
<text x="219.25" y="140.40" font-family='"Liberation Sans", sans-serif' font-size="12.59" fill="#111" textLength="6.49" lengthAdjust="spacingAndGlyphs" stroke="#111" stroke-width="0.15" stroke-linejoin="round">0</text>
<text x="229.20" y="135.90" font-family='"Liberation Sans", sans-serif' font-size="14.72" fill="#111" textLength="21.15" lengthAdjust="spacingAndGlyphs" stroke="#111" stroke-width="0.20" stroke-linejoin="round">= 6</text>
<text x="32.30" y="279.65" font-family='"Liberation Sans", sans-serif' font-size="14.54" fill="#111" textLength="25.85" lengthAdjust="spacingAndGlyphs" stroke="#111" stroke-width="0.10" stroke-linejoin="round">500</text>
<text x="82.30" y="273.75" font-family='"Liberation Sans", sans-serif' font-size="11.00" fill="#333" textLength="21.41" lengthAdjust="spacingAndGlyphs">550</text>
<text x="128.30" y="273.75" font-family='"Liberation Sans", sans-serif' font-size="11.00" fill="#333" textLength="20.88" lengthAdjust="spacingAndGlyphs">600</text>
<text x="174.20" y="273.75" font-family='"Liberation Sans", sans-serif' font-size="11.00" fill="#333" textLength="20.67" lengthAdjust="spacingAndGlyphs">650</text>
<text x="223.25" y="279.65" font-family='"Liberation Sans", sans-serif' font-size="14.40" fill="#111" textLength="25.92" lengthAdjust="spacingAndGlyphs" stroke="#111" stroke-width="0.10" stroke-linejoin="round">700</text>
<text x="266.50" y="273.95" font-family='"Liberation Sans", sans-serif' font-size="11.76" fill="#333" textLength="19.98" lengthAdjust="spacingAndGlyphs">750</text>
<text x="92.40" y="293.35" font-family='"Liberation Sans", sans-serif' font-size="14.64" fill="#111" textLength="119.60" lengthAdjust="spacingAndGlyphs" stroke="#111" stroke-width="0.20" stroke-linejoin="round">Wavelength (nm)</text>
<text transform="translate(21.70,213.95) rotate(-90)" font-family='"Liberation Sans", sans-serif' font-size="14.24" fill="#111" textLength="49.06" lengthAdjust="spacingAndGlyphs" stroke="#111" stroke-width="0.20" stroke-linejoin="round">Counts</text>
<text x="246.45" y="198.75" font-family='"Liberation Sans", sans-serif' font-size="20.90" fill="#f21010" textLength="25.16" lengthAdjust="spacingAndGlyphs" stroke="#f21010" stroke-width="0.20" stroke-linejoin="round">(a)</text>
<text x="333.85" y="53.15" font-family='"Liberation Sans", sans-serif' font-size="16.00" fill="#111" textLength="18.46" lengthAdjust="spacingAndGlyphs">20</text>
<text x="333.35" y="101.85" font-family='"Liberation Sans", sans-serif' font-size="16.43" fill="#111" textLength="18.21" lengthAdjust="spacingAndGlyphs">15</text>
<text x="332.85" y="149.55" font-family='"Liberation Sans", sans-serif' font-size="16.07" fill="#111" textLength="18.58" lengthAdjust="spacingAndGlyphs">10</text>
<text x="341.65" y="197.35" font-family='"Liberation Sans", sans-serif' font-size="16.36" fill="#111" textLength="9.93" lengthAdjust="spacingAndGlyphs">5</text>
<text x="342.70" y="245.25" font-family='"Liberation Sans", sans-serif' font-size="16.07" fill="#111" textLength="8.81" lengthAdjust="spacingAndGlyphs">0</text>
<text transform="translate(327.55,175.50) rotate(-90)" font-family='"Liberation Sans", sans-serif' font-size="19.76" fill="#111" textLength="60.05" lengthAdjust="spacingAndGlyphs">Counts</text>
<text x="518.65" y="97.50" font-family='"Liberation Sans", sans-serif' font-size="21.27" fill="#f21010" textLength="28.13" lengthAdjust="spacingAndGlyphs" stroke="#f21010" stroke-width="0.20" stroke-linejoin="round">(b)</text>
<text x="454.40" y="287.85" font-family='"Liberation Sans", sans-serif' font-size="16.87" fill="#111" textLength="12.88" lengthAdjust="spacingAndGlyphs">N</text>
<text x="466.10" y="291.50" font-family='"Liberation Sans", sans-serif' font-size="12.83" fill="#111" textLength="7.87" lengthAdjust="spacingAndGlyphs">0</text>
<text x="365.10" y="266.65" font-family='"Liberation Sans", sans-serif' font-size="15.93" fill="#111" textLength="10.63" lengthAdjust="spacingAndGlyphs">0</text>
<text x="396.01" y="266.90" font-family='"Liberation Sans", sans-serif' font-size="16.29" fill="#111" textLength="10.98" lengthAdjust="spacingAndGlyphs">2</text>
<text x="427.92" y="266.90" font-family='"Liberation Sans", sans-serif' font-size="16.66" fill="#111" textLength="9.71" lengthAdjust="spacingAndGlyphs">4</text>
<text x="458.33" y="266.65" font-family='"Liberation Sans", sans-serif' font-size="15.93" fill="#111" textLength="10.98" lengthAdjust="spacingAndGlyphs">6</text>
<text x="489.74" y="266.65" font-family='"Liberation Sans", sans-serif' font-size="15.93" fill="#111" textLength="10.67" lengthAdjust="spacingAndGlyphs">8</text>
<text x="516.50" y="266.65" font-family='"Liberation Sans", sans-serif' font-size="15.93" fill="#111" textLength="18.73" lengthAdjust="spacingAndGlyphs">10</text>
<text x="547.66" y="266.90" font-family='"Liberation Sans", sans-serif' font-size="16.29" fill="#111" textLength="19.04" lengthAdjust="spacingAndGlyphs">12</text>
<text x="637.10" y="58.80" font-family='"Liberation Serif", serif' font-size="17.08" fill="#111" textLength="17.37" lengthAdjust="spacingAndGlyphs">50</text>
<text x="646.10" y="107.30" font-family='"Liberation Serif", serif' font-size="16.41" fill="#111" textLength="8.28" lengthAdjust="spacingAndGlyphs">0</text>
<text x="631.50" y="156.25" font-family='"Liberation Serif", serif' font-size="17.00" fill="#111" textLength="22.97" lengthAdjust="spacingAndGlyphs">-50</text>
<text x="623.00" y="204.95" font-family='"Liberation Serif", serif' font-size="17.00" fill="#111" textLength="31.47" lengthAdjust="spacingAndGlyphs">-100</text>
<text x="594.00" y="256.20" font-family='"Liberation Serif", serif' font-size="17.82" fill="#111" textLength="55.43" lengthAdjust="spacingAndGlyphs">-150x10</text>
<text x="650.75" y="246.85" font-family='"Liberation Serif", serif' font-size="10.93" fill="#111" textLength="3.95" lengthAdjust="spacingAndGlyphs">3</text>
<text x="669.00" y="283.00" font-family='"Liberation Serif", serif' font-size="14.96" fill="#111" textLength="8.41" lengthAdjust="spacingAndGlyphs">1</text>
<text x="716.15" y="282.75" font-family='"Liberation Serif", serif' font-size="14.59" fill="#111" textLength="9.45" lengthAdjust="spacingAndGlyphs">2</text>
<text x="763.65" y="282.50" font-family='"Liberation Serif", serif' font-size="14.27" fill="#111" textLength="8.70" lengthAdjust="spacingAndGlyphs">3</text>
<text x="687.50" y="303.15" font-family='"Liberation Serif", serif' font-size="17.84" fill="#111" textLength="92.17" lengthAdjust="spacingAndGlyphs">Energy (eV)</text>
<text transform="translate(609.80,202.80) rotate(-90)" font-family='"Liberation Serif", serif' font-size="16.96" fill="#111" textLength="151.11" lengthAdjust="spacingAndGlyphs">Molar Ellipticity [&#952;]</text>
<text x="661.70" y="33.45" font-family='"Liberation Sans", sans-serif' font-size="21.01" fill="#f21010" textLength="22.73" lengthAdjust="spacingAndGlyphs" stroke="#f21010" stroke-width="0.20" stroke-linejoin="round">(c)</text>
<text x="703.05" y="192.20" font-family='"Liberation Sans", sans-serif' font-size="14.36" fill="#111" textLength="32.64" lengthAdjust="spacingAndGlyphs">150&#176;</text>
<text x="703.05" y="210.20" font-family='"Liberation Sans", sans-serif' font-size="14.36" fill="#111" textLength="32.64" lengthAdjust="spacingAndGlyphs">160&#176;</text>
<text x="703.05" y="228.20" font-family='"Liberation Sans", sans-serif' font-size="14.36" fill="#111" textLength="32.64" lengthAdjust="spacingAndGlyphs">170&#176;</text>
<text x="728.05" y="24.70" font-family='"Liberation Sans", sans-serif' font-size="12.54" fill="#111" textLength="25.58" lengthAdjust="spacingAndGlyphs" stroke="#111" stroke-width="0.30" stroke-linejoin="round">170&#186;</text>
<text x="746.55" y="50.40" font-family='"Liberation Sans", sans-serif' font-size="11.93" fill="#111" textLength="25.16" lengthAdjust="spacingAndGlyphs" stroke="#111" stroke-width="0.30" stroke-linejoin="round">160&#186;</text>
<text x="757.55" y="82.05" font-family='"Liberation Sans", sans-serif' font-size="11.39" fill="#111" textLength="25.37" lengthAdjust="spacingAndGlyphs" stroke="#111" stroke-width="0.30" stroke-linejoin="round">150&#186;</text>
<text x="917.55" y="61.80" font-family='"Liberation Sans", sans-serif' font-size="22.65" fill="#f21010" textLength="26.74" lengthAdjust="spacingAndGlyphs">(d)</text>
<text x="969.85" y="77.40" font-family='"Liberation Serif", serif' font-size="14.29" fill="#111" textLength="24.01" lengthAdjust="spacingAndGlyphs">200</text>
<text x="970.20" y="138.80" font-family='"Liberation Serif", serif' font-size="14.29" fill="#111" textLength="7.37" lengthAdjust="spacingAndGlyphs">0</text>
<text x="965.50" y="201.80" font-family='"Liberation Serif", serif' font-size="14.29" fill="#111" textLength="28.22" lengthAdjust="spacingAndGlyphs">-200</text>
<text x="996.00" y="201.80" font-family='"Liberation Serif", serif' font-size="14.29" fill="#111" textLength="20.80" lengthAdjust="spacingAndGlyphs">x10</text>
<text x="1016.55" y="191.20" font-family='"Liberation Serif", serif' font-size="9.73" fill="#111" textLength="7.13" lengthAdjust="spacingAndGlyphs">3</text>
<text x="834.45" y="280.10" font-family='"Liberation Serif", serif' font-size="15.08" fill="#111" textLength="8.94" lengthAdjust="spacingAndGlyphs">2</text>
<text x="901.45" y="279.85" font-family='"Liberation Serif", serif' font-size="14.71" fill="#111" textLength="8.08" lengthAdjust="spacingAndGlyphs">3</text>
<text x="837.80" y="299.75" font-family='"Liberation Serif", serif' font-size="17.00" fill="#111" textLength="88.42" lengthAdjust="spacingAndGlyphs">Energy (eV)</text>
<line x1="748.7" y1="21.6" x2="753.3" y2="21.6" stroke="#222" stroke-width="1.00"/>
<line x1="766.6" y1="47.4" x2="771.2" y2="47.4" stroke="#222" stroke-width="1.00"/>
<line x1="777.9" y1="79.0" x2="782.5" y2="79.0" stroke="#222" stroke-width="1.00"/>
</svg>
</body></html>
